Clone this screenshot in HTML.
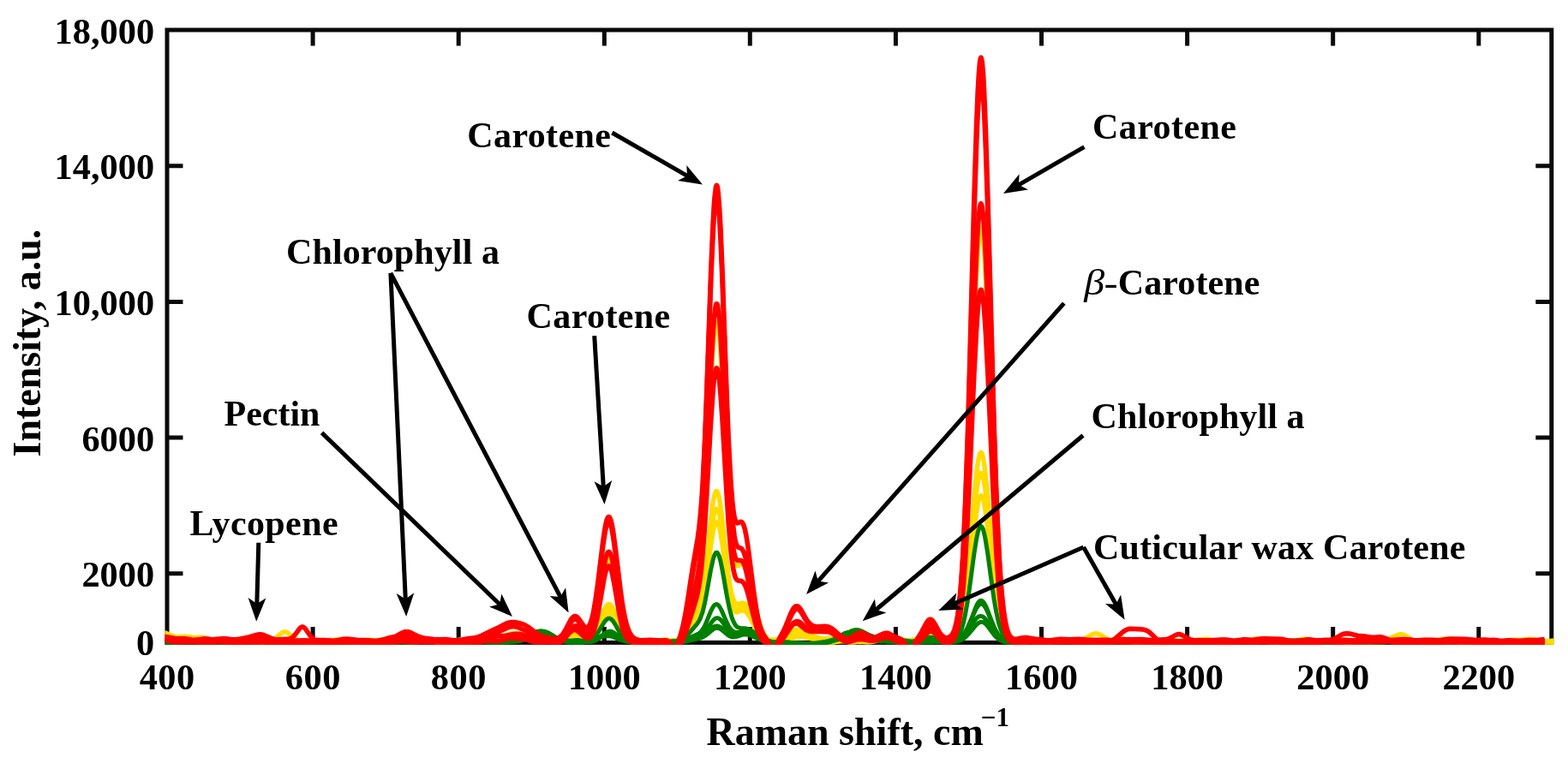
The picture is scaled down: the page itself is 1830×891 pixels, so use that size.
<!DOCTYPE html>
<html lang="en"><head><meta charset="utf-8"><title>Raman spectra</title>
<style>html,body{margin:0;padding:0;background:#fff;}body{width:1830px;height:891px;overflow:hidden;}svg{display:block;filter:blur(0.5px);}</style>
</head><body>
<svg width="1830" height="891" viewBox="0 0 1830 891">
<rect width="1830" height="891" fill="#fff"/>
<defs><clipPath id="plotclip"><rect x="192.6" y="32.5" width="1620.8" height="720.3"/></clipPath></defs>
<g stroke="#0a0a0a" stroke-width="5.0" fill="none" stroke-linecap="butt">
<rect x="195.0" y="35.0" width="1615.8" height="715.40"/>
<path d="M365.1,35.0 V53.5 M365.1,750.4 V731.9"/>
<path d="M535.2,35.0 V53.5 M535.2,750.4 V731.9"/>
<path d="M705.3,35.0 V53.5 M705.3,750.4 V731.9"/>
<path d="M875.3,35.0 V53.5 M875.3,750.4 V731.9"/>
<path d="M1045.4,35.0 V53.5 M1045.4,750.4 V731.9"/>
<path d="M1215.5,35.0 V53.5 M1215.5,750.4 V731.9"/>
<path d="M1385.6,35.0 V53.5 M1385.6,750.4 V731.9"/>
<path d="M1555.7,35.0 V53.5 M1555.7,750.4 V731.9"/>
<path d="M1725.8,35.0 V53.5 M1725.8,750.4 V731.9"/>
<path d="M195.0,669.8 H213.5 M1810.8,669.8 H1792.3"/>
<path d="M195.0,511.1 H213.5 M1810.8,511.1 H1792.3"/>
<path d="M195.0,352.4 H213.5 M1810.8,352.4 H1792.3"/>
<path d="M195.0,193.7 H213.5 M1810.8,193.7 H1792.3"/>
</g>
<g fill="none" stroke-linejoin="round" stroke-linecap="butt" clip-path="url(#plotclip)">
<path d="M191.6,738.4L201,742.5L203.1,743.2L205.2,743.7L208.6,743.9L215.4,743.3L219.2,743.4L229.4,745L240.9,745.8L249.4,747.4L252.8,747.8L263.5,747.9L271.5,748.9L274.5,749.1L278.3,748.7L285.6,747L289.4,746.6L292.4,746.7L298.8,747.5L301.7,747.7L312.4,747.1L323,747.7L332.8,747.4L336.6,747.8L344.2,749.4L347.2,749.8L350.6,749.8L357,749.2L360,749.1L363,749.3L368.9,750.2L371.9,750.4L375.3,750.1L383.4,748.8L387.2,748.6L395.3,748.9L405.1,748.8L408.5,749.1L414.8,750.1L418.7,750.2L421.6,749.9L428.4,748.2L431.4,747.7L434.4,747.6L440.8,748L443.7,748L452.7,746.7L456.1,746.5L459.5,746.7L467.6,747.6L477.8,747.9L485.8,749L488.8,749.2L492.2,749.1L499.5,748.1L502.9,748.1L505.8,748.4L512.6,749.7L516.5,749.9L519.4,749.6L525.8,748.5L528.8,748.2L538.6,748.2L549.2,747.2L558.6,747.6L562.4,747.3L573.4,744.8L581.9,744.1L584.9,743.6L588.3,742.7L596,739.8L598.5,739.3L600.7,739.1L605.3,739.6L617.7,742.3L621.9,743.5L629.1,746.1L633,747.1L636.4,747.4L644.4,747.3L653,747.9L655.9,747.5L658.5,746.3L661,744.5L665.7,740.2L667.4,738.9L669.5,737.8L671.2,737.5L672.9,737.7L674.6,738.5L679.7,742L681.4,743L683.1,743.5L684.4,743.4L685.7,743L687,742.1L689.1,739.5L691.2,735.1L693.3,728.7L695,722.1L697.2,711.9L703.6,674.5L705.7,663.5L707,658.4L708.2,654.7L709.5,652.6L710.4,652.1L711.2,652.5L712.5,654.5L713.8,658.2L715,663.4L717.6,677.2L723.1,711.9L724.8,721.1L726.5,728.9L728.2,735.2L729.9,740L731.6,743.5L733.3,745.9L735.4,747.7L736.7,748.3L738.4,748.8L741.8,749.2L751.2,750L755.4,749.8L765.2,748.3L776.7,748.5L785.2,747.9L789,747.4L791.6,746.4L792.8,745.5L794.1,744.2L795.4,742.4L796.7,740L798.8,734.7L800.9,727.5L813.7,673.3L815.8,661.8L817.5,649.5L818.8,637.8L820.1,623.5L822.6,586.6L824.7,548.1L829.8,445.6L832,410.1L833.2,393.9L834.1,385.9L835.4,378.3L835.8,377L836.2,376.3L836.6,376.4L837.1,377L837.5,378.4L838.3,382.9L839.6,394.2L840.9,410.4L843,445.9L848.1,548.2L850.2,586.3L852.8,622.1L854.1,635.3L855.4,645.5L856.2,650.6L857.5,656.1L858.3,658.5L859.6,660.4L860.5,660.9L861.7,660.6L865.6,657.5L866.4,657.1L867.3,657L868.5,657.5L869.4,658.4L870.2,659.7L871.5,662.5L873.2,667.7L875.3,676.2L882.1,709.4L885.5,724L887.7,731.3L889.4,736.1L891.1,739.9L893.2,743.4L895.3,745.7L897.4,747L900,747.6L902.6,747.5L907.2,746.3L914.5,743.7L917.9,742.2L924.2,738.7L926.8,737.5L929.3,736.8L931.9,736.7L934,737.1L936.1,737.9L946.8,743.6L960,749L964.6,750.5L968.5,750.8L971,750.6L977.8,749.2L981.2,748.8L991.4,748.9L1001.2,748.5L1012.7,749.2L1015.7,748.9L1022.5,747.6L1025.9,747.2L1029.3,747.4L1035.6,748.3L1038.6,748.5L1041.6,748.4L1048,747.5L1050.9,747.3L1053.9,747.3L1061.2,747.9L1065,747.8L1068.8,747.2L1072.2,746.2L1075.2,744.9L1082,741L1083.7,740.4L1085.4,740.2L1087.1,740.4L1089.2,741.2L1097.3,746.2L1102,748.4L1104.1,749L1106.2,749.3L1107.9,749.1L1109.2,748.6L1110.5,747.7L1111.8,746.4L1113,744.5L1113.9,742.8L1116,736.8L1117.7,729.7L1119.4,719.9L1121.1,706.8L1122.8,689.8L1124.1,674L1126.6,634L1129.2,582.2L1131.7,520.3L1136.8,384.6L1139.4,325.9L1141.1,295.8L1142.4,279.7L1143.6,269.6L1144.5,266.6L1144.9,266.2L1145.3,266.6L1146.2,269.6L1147.5,279.5L1148.7,295.6L1150.4,325.6L1153,384.2L1158.1,519.8L1160.7,581.7L1163.2,633.4L1165.8,673.3L1167,689L1168.7,705.9L1170,716.1L1171.7,726.6L1173.4,734.3L1175.5,741L1177.7,745.2L1178.9,746.8L1180.2,748L1182.3,749.1L1184.5,749.5L1186.6,749.4L1191.7,748.7L1194.7,748.6L1197.6,748.7L1204,749.4L1207,749.5L1217.2,748.8L1227.4,748.7L1236.3,747.4L1239.3,747.1L1242.7,747.2L1249.5,748.2L1252.5,748.4L1255.5,748.2L1262.3,747.4L1265.7,747.3L1274.6,748.5L1277.6,748.7L1280.6,748.5L1289.9,747.4L1299.7,747.4L1307.4,747.2L1309.9,747.3L1312.5,747.7L1320.5,749.9L1323.9,750.4L1327.3,750.4L1333.3,749.8L1336.3,749.7L1347.7,750.7L1351.1,750.5L1358.4,749.2L1361.8,748.8L1371.6,748.7L1382.2,748L1385.2,748.1L1391.5,748.7L1394.5,748.8L1397.5,748.5L1403.9,747.4L1406.4,747.2L1409.8,747.3L1417.9,749L1421.7,749.3L1432.4,748.5L1443,748.6L1454,747.5L1457,747.5L1466,748.1L1474.9,747.5L1477.4,747.4L1481.3,747.9L1488.5,749.6L1491.9,749.8L1495.3,749.6L1501.7,748.4L1504.6,748L1514.9,748L1524.2,747.6L1528,747.8L1537.4,749.1L1540.4,749.1L1547.2,748.7L1550.1,748.8L1553.1,749.2L1559.5,750.5L1562.9,750.8L1565.9,750.6L1572.3,749.6L1575.2,749.3L1578.2,749.4L1585,749.9L1589.3,749.8L1597.8,748.8L1608,748.3L1617.3,746.5L1621.2,746.2L1624.6,746.5L1630.9,747.8L1633.9,748.2L1636.9,748.2L1643.3,747.7L1646.2,747.6L1657.7,748.8L1661.1,748.7L1670.1,747.8L1680.3,748L1690.5,747.6L1694.3,748.1L1701.9,749.9L1705.3,750.3L1708.3,750.2L1714.7,749.2L1717.7,748.9L1720.7,748.9L1727,749.5L1730.4,749.6L1740.6,748.6L1752.1,748.8L1762.8,747.8L1766.2,748L1772.5,748.9L1775.9,749.1L1778.9,748.9L1785.7,748L1789.1,748L1792.1,748.4L1798.9,749.9L1802.3,750.3L1805.7,750.2L1814.2,749.3" stroke="#ffdc00" stroke-width="5.4"/>
<path d="M191.6,739.7L200.5,743L203.5,743.7L206.5,744.2L218.4,745.2L221.8,745.4L225.2,745.1L232,744.1L235,744.1L238.4,744.7L246,747.6L249.9,748.4L252.8,748.5L259.2,747.9L262.2,747.8L273.7,749.1L277.1,749L285.1,748.3L294.5,748L305.1,746.5L308.5,746.6L314.5,747.3L317,747.2L319.2,746.6L321.3,745.4L328.9,739L330.6,738.2L332.3,737.9L334,738.2L336.2,739.3L343.4,745.5L345.5,746.9L347.7,747.9L349.8,748.5L351.9,748.8L363.8,749.8L368.1,749.7L375.3,748.7L378.3,748.5L381.7,748.8L388,749.8L391.4,749.9L394.4,749.6L400.8,748.2L403.8,748.1L407.2,748.5L415.3,750.5L419.5,750.8L436.9,748.5L446.3,746.7L449.7,746.5L453.1,746.7L459.5,747.9L462.5,748.1L465.4,747.9L472.2,746.7L475.6,746.6L478.6,747L485.4,748.8L488.8,749.3L491.8,749.2L498.2,748.5L501.6,748.4L510.5,748.9L520.3,748.9L528.8,749.8L531.8,749.9L535.6,749.3L542.8,746.9L545.8,746.3L549.2,746.3L556.9,747.6L561.1,747.6L564.1,747.2L572.2,745.3L581.9,743.8L590,741.8L593,741.2L596.8,741L604.9,741.2L612.1,740.7L615.1,740.9L618.1,741.7L621.1,743L627.9,746.8L630,747.7L632.1,748.2L635.5,748.5L643.2,748.1L651.7,748.2L654.7,747.7L657.6,746.5L660.2,745L666.1,740.7L667.8,739.8L669.5,739.2L671.2,739.1L673.4,739.5L680.2,742.6L681.9,743.2L683.6,743.5L685.3,743.5L687,743.3L688.7,742.6L690.4,741.6L692.1,740.1L693.8,738.1L695.5,735.5L696.7,733.1L699.3,727.4L704.8,713.2L707,708.8L708.2,707L709.1,706.1L709.9,705.6L710.8,705.5L711.6,705.7L712.9,706.7L714.2,708.5L715.5,711L717.6,716.3L723.5,733.1L725.2,737.2L726.9,740.6L728.6,743.3L730.3,745.4L732,747L734.2,748.4L736.3,749.3L739.3,750.1L742.2,750.6L745.2,750.7L749,750.3L756.3,748.5L759.3,748.1L762.7,748.1L769.9,749.4L773.3,749.5L776.3,749.2L783.5,747.9L790.3,747.6L792.8,747.2L795,746.3L797.1,744.6L799.2,742L801.4,738.5L813.7,713.9L815.8,708.4L817.5,702.4L818.8,696.6L820.1,689.7L822.6,671.8L824.7,653.3L829.4,608.5L831.5,591.2L832.8,583.1L834.1,577.3L835.4,574.1L835.8,573.6L836.2,573.4L836.6,573.6L837.1,574L838.3,577.1L839.2,580.5L840.5,587.7L843,607.3L847.7,650.9L850.2,672L852.8,688.2L854.1,694.1L855.4,698.6L857.1,702.6L857.9,703.9L859.2,705L860,705.4L861.3,705.4L865.6,704.1L867.3,704L868.5,704.3L869.4,704.8L871.5,706.8L873.2,709.4L875.3,713.5L882.6,731L885.5,737.2L887.2,740.1L888.9,742.5L890.6,744.3L892.3,745.6L894.9,746.7L898.3,747.2L907.2,747.2L911.5,746.5L914,745.5L916.6,744L923.4,738.5L925.9,736.7L928.5,735.5L931,735.1L933.2,735.3L935.3,736L946.8,741.8L951.4,743.6L955.7,744.9L958.7,745.5L961.2,745.7L969.7,745.4L973.1,745.5L976.5,746.2L982.9,748.2L986.3,748.8L989.3,748.7L995.7,747.8L999.1,747.7L1002,748.1L1009.3,749.8L1012.7,750.1L1015.7,749.9L1022,748.6L1025.4,748.2L1041.6,747.5L1045.4,747.6L1053.5,748.7L1057.3,748.8L1060.7,748.2L1068,746.3L1074.8,744.8L1082.8,742.1L1085.8,741.6L1087.9,741.9L1090.1,742.6L1097.7,746.4L1102,748.1L1104.1,748.6L1106.2,748.9L1107.9,748.9L1109.6,748.7L1112.2,747.6L1114.3,746L1116.4,743.3L1118.1,740.1L1119.8,735.6L1121.5,729.4L1123.2,721.4L1124.5,713.9L1127.1,694.7L1129.6,669.8L1136.8,582.2L1139.4,555.1L1141.1,541.3L1142.4,534L1143.6,529.6L1144.5,528.3L1144.9,528.2L1145.3,528.5L1146.2,530L1147.5,534.8L1148.7,542.4L1150,552.5L1152.6,578.5L1157.7,639.9L1160.2,668.3L1162.8,692.3L1165.3,711.2L1166.6,718.7L1168.3,726.9L1170,733.3L1171.7,738.2L1173.4,741.8L1175.5,745L1177.7,746.9L1180.2,748.2L1181.9,748.7L1184,749L1197.6,749.7L1201.5,749.4L1209.1,748.2L1212.1,748.1L1215.1,748.5L1221.9,750.1L1224.9,750.3L1228.3,750L1235.5,747.9L1238.9,747.4L1242.3,747.3L1250.4,748.1L1255,748L1260.2,747.2L1264.4,746.1L1267.8,744.7L1275,740.7L1277.2,740L1279.3,739.7L1281,739.9L1283.1,740.7L1285.2,741.8L1291.6,745.9L1293.7,746.9L1295.4,747.4L1297.1,747.6L1298.8,747.5L1306.5,746.1L1309.9,746L1313.3,746.6L1320.1,748.7L1323.5,749.5L1326.9,749.9L1338.8,750.6L1343.5,750.5L1351.1,749.2L1354.5,748.9L1358,749.2L1364.3,750.1L1367.7,750.2L1370.7,749.8L1377.9,747.9L1381.3,747.6L1384.3,747.8L1390.7,748.8L1393.7,749L1396.2,748.9L1405.6,747.8L1414.9,748L1423.4,747.9L1427.3,748.2L1434.9,749.9L1437.9,750.1L1441.7,749.5L1449.4,747.3L1452.8,746.9L1455.7,747.1L1461.7,748.1L1464.7,748.4L1476.2,748L1486.8,749L1497,748.8L1507.2,749.4L1511.5,748.9L1519.5,746.4L1522.9,746.1L1526.3,746.5L1533.1,748.4L1536.5,749L1539.5,749L1545.9,748.5L1549.3,748.5L1558.7,749.3L1568.9,749.5L1577.4,750.7L1580.3,750.8L1583.3,750.6L1590.1,749.1L1593.5,748.7L1596.5,748.8L1604.1,749.9L1606.3,749.9L1608.4,749.7L1611.8,748.8L1623.3,744.7L1631.8,741.3L1633.5,740.8L1635.2,740.7L1636.9,740.9L1639,741.5L1641.1,742.7L1647.9,747.1L1650.5,748.1L1653,748.6L1656,748.4L1662,747.3L1664.5,747L1667.9,747.1L1674.7,748.4L1677.7,748.6L1681.1,748.3L1687.5,747.2L1690.5,747.1L1693.9,747.4L1702.4,749.3L1706.6,749.7L1719,750.2L1721.9,750.1L1725.8,749.6L1732.6,748.2L1736,747.9L1739.4,748.2L1746.2,749.7L1749.1,749.9L1752.5,749.4L1759.8,747.7L1763.6,747.3L1773.8,748.4L1784.9,748.3L1795.1,749.2L1806.1,749L1809.1,749.4L1814.2,750.5" stroke="#ffdc00" stroke-width="5.4"/>
<path d="M191.6,743L195,744.6L198,745.3L206.1,746.2L215.4,747.4L218.8,747.3L225.6,746.2L228.6,746L232,746.4L238.8,747.9L241.8,748.1L244.7,747.9L250.3,746.8L253.3,746.6L256.7,747L263,748.5L266,748.7L269,748.5L275.4,747.1L278.3,746.7L281.3,746.7L289,747.2L298.3,746.7L302.2,747.2L309,748.7L311.9,749L315.3,748.6L322.1,746.9L325.1,746.6L328.1,747L334.5,748.6L337,749.1L340,749.2L345.9,748.8L348.9,748.8L351.9,749.1L357.9,750.3L361.3,750.6L363.8,750.5L371.9,749.5L380,749.7L382.5,749.5L385.9,748.9L392.3,746.9L395.7,746.5L398.7,746.9L406.3,749.2L410.2,749.8L412.7,749.7L418.2,748.9L420.8,748.7L423.8,748.8L429.7,749.4L432.7,749.4L440.3,748.4L443.3,748.2L446.3,748.3L452.3,749.1L455.2,749.1L458.2,748.8L464.2,747.7L466.7,747.5L470.1,747.8L476.9,749.3L479.9,749.4L482.9,749L490.1,747L493.5,746.6L496.5,746.8L503.7,747.9L514.3,748L524.5,749.2L528.4,748.9L535.6,747.1L538.6,746.8L541.5,746.9L547.9,748.1L551.3,748.3L553.9,748.1L560.3,746.7L563.2,746.3L566.2,746.4L572.6,747.3L576.4,747.2L579.4,746.6L587.9,744.1L596.8,742.8L604.5,741.1L607.9,740.8L610,740.9L612.1,741.5L619.4,744.5L622.8,745.5L625.7,745.8L632.1,745.5L635.1,745.6L638.1,746.1L643.6,747.5L646.6,747.9L649.6,747.8L652.5,747.3L666.6,743.2L669.1,742.6L671.2,742.4L673.4,742.5L675.5,742.9L684,746.1L685.7,746.5L687.4,746.5L689.1,746.2L690.8,745.2L692.5,743.6L694.2,741.2L697.2,735.4L703.1,720L705.3,715.3L706.5,713.1L707.8,711.5L709.1,710.7L709.9,710.5L710.8,710.7L712.1,711.6L713.3,713.1L714.6,715.2L716.7,719.7L722.7,733.6L724.8,737.8L726.5,740.5L728.2,742.8L730.3,745L732.5,746.8L735,748.3L738.4,749.4L740.1,749.7L742.2,749.8L744.8,749.5L750.3,748.5L752.9,748.2L755.9,748.3L761.8,748.9L764.8,748.9L767.3,748.5L773.7,747.1L776.7,746.9L780.1,747.4L787.3,749.5L789.4,749.7L791.1,749.5L793.7,748.3L795.8,746.7L797.9,744.3L800.5,740.7L812.8,720.1L815,715.7L817.1,709.5L819.6,698.7L822.2,683.7L824.7,664.6L829.4,625.7L832,608L833.2,601.5L834.5,596.9L835.8,594.5L836.2,594.2L836.6,594.2L837.5,594.9L838.8,597.9L839.6,601.1L840.9,607.5L843.4,625L848.1,663.4L850.7,682.2L853.2,696.6L854.5,702L855.8,706.1L857.5,709.6L858.3,710.7L859.6,711.5L860.5,711.6L861.7,711.4L866,708.9L868.1,708.2L869.4,708.3L870.2,708.7L871.9,710.1L873.6,712.4L875.3,715.6L882.1,731.2L885.1,737.1L886.8,739.7L888.5,741.9L890.6,743.9L892.8,745.3L895.7,746.7L899.6,748L902.6,748.6L905.5,748.7L907.7,748.4L909.8,747.7L918.3,743.1L922.1,741.7L925.5,741.3L938.7,741.1L941.7,741.3L944.2,741.9L946.8,742.9L952.7,745.5L956.6,746.5L959.5,746.6L965.5,746.1L968.5,746L977,747.2L979.9,747.3L987.6,746.7L990.1,746.7L993.5,747.3L1000.3,749.3L1003.3,749.7L1006.3,749.6L1013.5,747.8L1017.4,747.4L1028,748.5L1036.1,748L1039,748.1L1047.1,749.5L1049.7,749.7L1053.1,749.6L1059.5,748.5L1062.4,748.3L1065.4,748.4L1070.9,749.2L1073.5,749.3L1077.3,748.6L1084.5,746.3L1087.9,745.8L1090.9,746.1L1097.3,747.6L1100.7,748.1L1104.5,748.1L1108.8,747.5L1111.8,746.6L1113.9,745.5L1116,743.5L1117.7,741L1119.4,737.2L1120.7,733.5L1122.4,727L1123.7,720.8L1126.2,704.7L1128.8,683.8L1131.3,658.6L1136.8,598.8L1139.4,575.5L1141.1,563.7L1142.4,557.4L1143.6,553.5L1144.5,552.4L1144.9,552.3L1145.3,552.5L1146.2,553.7L1147.5,557.8L1148.7,564.2L1150.4,576.1L1153,599.5L1160.7,680.1L1163.2,701.9L1165.8,719L1168.3,731.4L1169.6,736L1171.3,740.7L1173,744L1174.7,746.1L1176.4,747.5L1178.5,748.4L1181.9,749L1191.7,749.7L1195.1,749.5L1201.9,748.6L1204.9,748.5L1207.9,748.9L1213.8,750.1L1216.8,750.3L1220.2,749.7L1227,747.4L1230.4,746.8L1233.4,746.7L1239.3,747.5L1242.3,747.6L1244.8,747.4L1250.8,746.6L1253.3,746.4L1256.8,746.8L1265.3,748.5L1268.2,748.6L1276.3,748.6L1284,749.7L1286.9,749.9L1290.8,749.4L1298.4,747L1301.8,746.6L1304.8,747L1312,748.8L1315,749.1L1325.6,748.4L1334.1,749.3L1337.1,749.4L1345.6,748.4L1348.2,748.3L1351.1,748.5L1357.1,749.4L1359.7,749.5L1362.6,749.2L1369,748L1371.6,747.8L1375,748.2L1382.2,750.1L1385.2,750.4L1388.6,749.9L1395.4,748.3L1399.2,748L1408.6,748.8L1418.8,748.7L1421.7,749.1L1427.7,750.3L1430.7,750.5L1434.1,750.1L1440.4,748.3L1443,747.8L1446.4,747.6L1452.8,748.3L1455.7,748.2L1458.7,747.7L1465.5,745.8L1468.9,745.5L1471.9,745.8L1477.9,747.3L1480.8,747.8L1491,748.1L1500.4,749.3L1503.8,749.2L1511.5,747.7L1515.3,747.5L1518.3,748L1524.6,749.7L1528,750.2L1531,750L1536.5,748.9L1539.1,748.7L1542.1,748.8L1548.9,749.9L1551.8,750L1554.8,749.8L1562.5,748.7L1565.5,748.7L1571.4,749.3L1574.4,749.3L1584.6,748.3L1588,748.6L1595.2,750.2L1598.2,750.4L1601.6,749.8L1609.3,747.2L1613.1,746.7L1615.6,746.8L1623.3,747.8L1631.4,747.5L1634.3,747.6L1637.3,748L1642.8,749.2L1645.8,749.5L1648.8,749.4L1654.7,748.7L1657.3,748.6L1667.9,749.5L1671.3,749.1L1679,746.8L1681.1,746.3L1682.8,746.2L1685.8,746.5L1692.6,748.2L1696,748.6L1706.6,747.8L1717.3,748.5L1725.3,747.7L1728.7,747.6L1731.7,748.1L1738.5,749.9L1741.5,750.3L1744,750.2L1750.4,749.1L1753.4,748.9L1756.4,749.1L1763.2,750.5L1766.2,750.6L1769.1,750.3L1776.4,748.5L1779.8,748.2L1789.5,748.9L1799.3,748.7L1802.3,749.1L1809.5,750.4L1812.1,750.5L1814.2,750.1" stroke="#ffdc00" stroke-width="5.4"/>
<path d="M191.6,744.3L204.8,746.2L208.2,746.1L215,745.1L218,744.9L220.9,745.2L227.7,746.9L230.7,747.3L233.7,747.2L239.6,746.4L242.6,746.2L245.6,746.5L252.4,747.9L255.8,748.3L258.4,748.3L267.3,747.5L277.9,748.5L287.3,748.4L291.1,748.9L298.3,750.8L301.3,751.2L305.1,750.7L311.9,748.7L315.3,748L318.3,747.9L326.8,748.4L337.4,747.4L340.8,747.5L349.8,748.9L360.8,748.8L368.9,749.9L371.5,750L374.9,749.7L382.5,747.6L385.9,747.2L388.9,747.4L395.7,749L399.1,749.4L402.1,749.3L410.6,748.3L421.2,748.5L429.3,747.5L432.3,747.3L435.2,747.5L441.6,748.5L444.6,748.7L447.6,748.5L454,747.5L457.4,747.5L459.9,747.8L466.3,749.1L469.3,749.4L472.7,749L479.9,747.3L483.7,747L493.5,748L502.4,748.5L505.8,749.1L512.6,750.9L516.5,751.2L519.4,750.9L525.4,749.6L528.4,749.2L531.3,749.2L537.7,749.9L541.1,749.8L544.1,749.2L550.5,747.4L553.5,746.9L556.4,746.8L562.8,747.1L566.2,746.9L576,744.8L585.8,743.3L595.1,740.5L597.2,740.1L599,740L600.7,740.1L602.8,740.5L610,743.2L613,744L615.5,744.3L621.5,744.5L624.5,744.8L633,746.8L635.9,747.3L639.3,747.4L647,747.1L654.7,747.7L657.2,747.7L660.6,747.1L667.4,744.8L670.4,744.4L672.1,744.7L673.8,745.2L680.6,748.4L682.3,748.8L684,748.9L686.1,748.4L687.8,747.5L689.9,745.7L692.1,743.4L694.2,740.4L696.3,736.8L702.7,724.6L705.3,720.3L706.5,718.6L707.8,717.3L709.1,716.4L710.4,716.1L711.2,716.3L712.5,716.9L713.8,718.1L715,719.7L717.2,723.4L723.1,736.1L726.1,741.5L727.8,743.9L729.1,745.4L730.8,746.8L732.5,747.8L735.4,748.6L743.1,749L750.3,750.1L752.9,750.3L756.7,750L763.5,748.3L766.9,747.9L769.9,748.1L776.3,749.3L778.8,749.5L781.8,749.5L784.8,749L789.9,747.6L793.3,746.3L796.2,744.5L798.8,742L802.2,737.4L808.6,726.5L813.7,718.6L815.4,715.5L817.1,711.5L818.8,706.3L820.1,701.2L822.6,688L825.2,670.9L829.8,635.8L832.4,620L833.7,614.4L834.5,611.7L835.8,609.5L836.6,609.2L837.5,609.9L838.8,612.7L839.6,615.8L840.9,621.9L843,635.5L848.1,674.4L850.2,688.7L852.8,701.9L854.1,706.7L855.4,710.2L857.1,713.2L857.9,714.1L859.2,714.8L860.9,714.7L865.1,713.2L866.8,712.9L868.1,713.1L869,713.4L871.1,715L872.8,717.1L874.9,720.4L882.6,735L886.4,741.4L888.5,744.3L890.2,746.2L892.3,748.1L894,749.2L895.3,749.7L897,750.2L900,750.1L902.1,749.6L909.8,747.1L912.8,746.7L920.8,746L923.8,745.4L930.2,743.5L934,743L937.8,743.5L946.8,745.8L956.6,746.9L965.5,748.6L969.7,748.7L977,747.6L980.4,747.5L983.8,748.1L990.6,750L993.5,750.4L996.9,750.2L1003.3,748.8L1006.3,748.3L1016.5,748L1024.2,747L1027.1,746.8L1030.5,747L1036.9,748.1L1039.9,748.4L1042.9,748.4L1049.2,747.8L1052.2,747.9L1054.8,748.3L1060.7,749.6L1063.3,749.8L1066.7,749.6L1074.3,747.6L1078.2,747.2L1081.1,747.4L1089.6,748.6L1098.6,748.9L1106.7,749.8L1109.2,749.7L1111.8,748.9L1113.9,747.4L1116,745L1117.7,742.3L1119.4,738.6L1121.1,733.8L1122.8,727.8L1124.1,722.2L1126.6,708.3L1129.6,687.2L1132.2,665.3L1137.3,617.8L1139.8,597.6L1141.1,589.8L1142.4,583.8L1143.6,580L1144.5,578.8L1144.9,578.6L1145.3,578.6L1146.2,579.5L1147.5,582.9L1148.7,588.5L1150.4,599.1L1153,620L1158.1,668.4L1160.2,686.9L1162.8,705.7L1165.3,720.1L1166.6,725.7L1168.3,731.7L1169.6,735.2L1171.3,738.9L1173,741.6L1175.1,743.9L1177.2,745.4L1179.8,746.4L1181.5,746.7L1183.6,746.9L1190.8,746.3L1194.2,746.4L1197.2,747.1L1204.4,749.4L1208.3,750L1211.3,749.8L1216.8,748.7L1219.3,748.4L1222.3,748.4L1228.3,749L1231.2,749.1L1234.2,748.8L1240.6,747.8L1244,747.6L1254.6,748.5L1265.3,748.4L1268.2,748.7L1274.2,749.9L1277.6,750.2L1281,749.7L1288.2,747.7L1291.6,747.4L1294.6,747.6L1301.8,749L1304.8,749.2L1314.6,748.6L1325.6,749.3L1328.6,749L1334.6,748.2L1337.1,748.1L1340.5,748.3L1346.9,749.4L1349.9,749.5L1352.8,749.3L1358.8,748.4L1361.8,748.3L1364.8,748.7L1371.6,750.2L1374.5,750.5L1377.9,750.1L1384.7,748.3L1388.1,747.6L1397.1,747.1L1406.4,746.1L1410.7,746.5L1417.9,748.3L1421.3,748.7L1423.9,748.7L1430.2,747.8L1433.2,747.7L1436.2,748.1L1442.6,749.4L1446,749.6L1448.9,749.3L1455.7,748.1L1459.2,747.9L1469.4,749.2L1480,749.2L1490.2,750.2L1494,749.8L1500.8,748.1L1504.2,747.7L1507.2,747.8L1514.4,749.5L1518.3,749.8L1520.8,749.7L1528.9,748.5L1531.9,748.5L1540.4,749L1543.3,748.8L1549.3,747.7L1552.3,747.4L1555.2,747.4L1563.3,747.9L1573.5,747.2L1576.9,747.6L1585,750.1L1588.8,750.7L1592.2,750.4L1598.6,748.8L1601.6,748.3L1604.6,748.2L1612.2,748.3L1623.3,747.3L1625.8,747.4L1632.2,748.2L1635.2,748.4L1638.2,748.2L1644.1,747.5L1647.1,747.5L1650.1,747.8L1656,749.1L1659,749.3L1662.4,749.1L1669.2,747.7L1672.6,747.5L1675.6,747.9L1682.8,749.6L1687.1,750L1695.1,749.7L1705.3,749.8L1708.7,749.4L1715.1,748L1718.1,747.8L1721.5,748.1L1727.5,749.4L1730.4,749.8L1733.8,749.7L1740.2,748.6L1743.2,748.5L1746.2,748.7L1752.5,749.7L1755.5,749.8L1758.5,749.4L1765.3,747.7L1768.3,747.2L1778.1,746.9L1786.1,746.3L1788.7,746.4L1790.8,746.7L1798.5,748.9L1801.9,749.5L1805.3,749.3L1811.7,748.1L1814.2,747.9" stroke="#ffdc00" stroke-width="5.4"/>
<path d="M191.6,749.4L201.8,750.1L206.1,750.2L222.2,749.6L235,748.8L238.4,749L245.6,749.8L248.6,749.9L252.4,749.6L260.1,748.5L263.9,748.3L267.3,748.5L277.9,749.6L295.8,750.4L307.3,749.8L319.2,749.8L322.6,749.5L329.8,748.2L334,747.9L337.4,748.1L345.5,749.2L349.4,749.5L364.7,749.1L377.4,748.5L391,749.5L394.4,749.5L401.7,748.9L405.1,748.9L414.4,750.1L417.8,750.3L433.1,749.7L447.6,750L459.1,750.6L463.7,750.3L473.1,748.5L477.3,748.1L489.2,748.8L501.6,748.6L513.9,749.6L528.8,750.1L533.9,749.9L542.4,748.7L545.8,748.4L549.2,748.6L556.9,749.7L560.7,749.9L564.1,749.8L574.3,748.9L599.4,749L604.1,748.5L607.9,747.4L611.7,745.7L619.8,740.8L623.6,738.9L627.9,737.4L631.7,737L635.5,737.4L639.3,738.7L642.7,740.5L651.7,746.2L654.7,747.7L657.2,748.7L661,749.6L665.7,750.3L671.2,750.8L675.5,750.8L680.2,750.2L684.8,749L688.7,747.4L692.1,745.3L694.6,742.9L697.2,739.7L699.3,736.4L704.4,727.8L706.5,724.8L708.7,722.8L709.9,722.2L710.8,722.1L711.6,722.2L712.9,722.8L714.2,723.9L715.5,725.4L717.6,728.6L723.5,738.9L726.5,743.1L728.2,744.9L729.9,746.2L731.6,747.2L733.3,747.9L736.7,748.7L741.8,749.1L747.3,749.1L755.9,748.7L759.3,748.8L762.7,749.1L769.5,750.1L773.3,750.4L776.7,750.2L783.9,749.3L791.6,748.6L794.1,748L796.7,746.9L798.8,745.4L800.9,743.4L813.7,728.3L815.8,725.1L817.5,721.7L820.1,714.3L822.6,703.8L824.7,692.9L829.4,666.3L832,654.2L833.2,649.8L834.1,647.6L835.4,645.6L836.2,645.2L837.1,645.4L838.3,647.2L839.6,650.5L840.9,655.2L843,665.3L848.5,696.8L851.1,709.6L852.8,716.5L854.1,720.8L855.4,724.4L857.1,728L858.3,730L859.6,731.4L860.9,732.4L862.2,733L864.3,733.5L869.4,733.8L871.5,734.1L874.1,734.8L876.2,735.8L880,738.3L888.9,745.3L891.9,747.1L894.5,748.3L897,749.1L900.4,749.9L907.2,751L911.9,751.5L916.6,751.6L927.2,750.8L930.6,751L939.5,752.1L942.5,752.2L945.5,751.9L963.4,749.3L967.2,748.5L971,747.4L976.5,745.5L981.2,743.6L993.5,736.9L996.5,735.9L999.1,735.6L1001.6,736L1004.2,736.9L1014.4,742.5L1019.9,744.8L1031,748.1L1035.2,749L1039,749.6L1051.4,750.6L1054.8,750.6L1057.8,750.4L1064.6,749.1L1073.5,747L1082,744.7L1085.8,744.3L1087.9,744.4L1090.5,744.8L1099,747.4L1102.8,748.3L1106.7,748.7L1109.6,748.6L1112.2,747.9L1114.3,746.9L1116.4,745.2L1118.1,743.2L1119.8,740.4L1121.1,737.6L1122.8,733L1124.1,728.6L1126.6,717.4L1129.2,702.8L1131.7,685.3L1136.8,647L1139.4,630.6L1141.1,622.3L1142.4,617.9L1143.6,615.2L1144.5,614.5L1144.9,614.4L1145.3,614.6L1146.2,615.6L1147.5,618.5L1148.7,623.2L1150,629.5L1152.6,645.4L1157.7,683L1160.2,700.4L1162.8,715L1165.3,726.3L1166.6,730.8L1168.3,735.7L1170,739.4L1171.7,742.2L1173.4,744.3L1175.5,746.1L1177.7,747.2L1180.2,748L1184,748.5L1198.1,749.3L1211.7,749.4L1223.6,750.4L1227.4,750.2L1235.1,748.9L1238.9,748.6L1242.7,748.8L1253.8,750L1267,750.2L1272.1,750.1L1283.1,749.2L1293.3,749.7L1296.7,749.7L1309.5,748.2L1312.9,748.3L1323.1,749L1334.6,748.4L1340.1,748.3L1352.4,748.8L1363.9,750.6L1367.7,750.9L1371.1,750.7L1381.3,749.5L1393.7,749.8L1406.9,748.9L1423.9,749.5L1433.2,750.1L1437,750.1L1440.9,749.8L1448.5,748.6L1451.9,748.4L1455.3,748.5L1462.6,749.5L1466.4,749.8L1480,749.2L1497.4,749.3L1509.3,749.8L1522.1,749L1525.5,749.2L1532.3,749.9L1535.3,750L1539.5,749.6L1548.4,748.1L1553.5,747.8L1566.7,748.4L1580.3,750L1583.7,750L1593.9,749.7L1605.8,750.6L1609.7,750.4L1616.9,749.4L1620.3,749.2L1624.1,749.2L1634.3,749.9L1646.2,749.9L1651.8,749.7L1660.7,748.6L1664.1,748.4L1667.5,748.6L1674.7,749.5L1678.1,749.7L1681.5,749.6L1688.8,748.8L1692.2,748.6L1703.6,749L1715.6,748.8L1731.3,749.1L1736,749.4L1744.5,750.7L1748.3,751L1752.1,750.7L1760.6,749.1L1764.9,748.7L1775.9,749L1786.6,748.8L1802.7,749.1" stroke="#008000" stroke-width="5.0"/>
<path d="M191.6,748.7L203.1,749.4L213.3,749.4L223.5,750.1L227.7,749.7L235.8,747.8L239.6,747.6L242.6,747.8L249,748.8L252,749.1L263,748.6L274.1,749.4L285.6,749.2L296.6,750L305.6,749.3L308.5,749.3L311.9,749.6L318.7,750.9L322.1,751.1L325.5,750.8L333.6,749.3L337.9,749L345.5,749L355.3,748.8L368.1,750.2L371,750.1L380.4,749.1L391.9,750L395.7,749.7L403.4,748.3L406.8,748.1L409.7,748.3L418.7,749.3L428,749.5L436.9,749.9L440.8,749.7L448.4,748.5L451.8,748.2L454.8,748.4L461.2,749.4L464.6,749.7L467.6,749.6L473.9,748.8L476.9,748.6L489.2,749.6L500.7,748.9L510.9,749.3L520.3,749.2L524.5,749.6L532.6,751.3L536,751.5L539.4,751.2L546.6,749.6L550.1,749.3L560.7,749.6L572.2,748.9L583.6,749.5L593,748.9L601.5,749.1L604.5,748.9L607.5,748.2L610.4,746.8L619.4,740.8L623.2,738.7L627,737.4L630.8,737.1L634.7,737.5L638.5,738.8L641.9,740.4L650.4,745.6L654.7,747.3L658.1,748L666.6,748.6L675.9,750L679.3,750.1L683.1,749.7L689.1,748.4L693.8,747L696.3,746L698.9,744.6L707.4,738.6L709.5,737.7L711.6,737.3L713.8,737.6L716.3,738.8L723.5,744.2L726.5,746.1L729.5,747.3L732.5,748.1L744.8,750.4L748.2,750.8L752,750.7L759.3,749.5L762.2,749.3L765.2,749.3L772,750L775.8,750L785.2,748.8L794.1,748.6L797.9,748L801.8,746.5L808.2,743.2L814.1,740.6L816.2,739.3L817.9,737.7L819.2,736.3L820.5,734.4L822.2,731.4L824.7,725.8L829.4,714.2L832,709.1L833.2,707.3L834.1,706.4L835.4,705.7L836.2,705.6L837.1,705.8L837.9,706.3L838.8,707.1L840,708.9L842.2,712.9L847.7,725.7L850.2,730.8L852.8,734.6L854.1,736L855.8,737.3L857.9,738.2L860,738.5L862.2,738.4L870.2,737.3L872.8,737.4L875.3,737.9L877.5,738.6L879.6,739.7L888.9,746L893.2,748.1L896.6,749.1L905.1,750.6L914.5,752.9L917,753.2L919.6,753.1L927.2,751.9L930.6,751.5L942.5,751.9L951.9,751.3L959.5,751.2L963.4,750.7L968,749.4L984.2,742.8L995.7,736.9L998.2,736L1000.3,735.8L1002.9,736.1L1005.5,736.9L1015.2,742L1020.8,744.4L1028.4,746.9L1033.5,747.9L1036.9,748.1L1043.7,747.8L1046.7,747.9L1049.7,748.3L1056.5,749.7L1060.3,750.1L1062.9,750L1071.8,749.1L1074.8,749.1L1083.7,749.9L1086.7,749.8L1096.4,748.7L1109.2,749L1114.7,748.3L1116.9,747.8L1119,747L1122,745.2L1123.7,743.6L1124.9,742.1L1127.5,738.1L1130,732.7L1132.6,726.2L1137.3,713L1139.8,706.9L1141.1,704.5L1142.4,702.8L1143.6,701.7L1144.9,701.3L1146.2,701.7L1147.5,702.8L1148.7,704.5L1150,706.8L1152.6,712.6L1157.3,725.1L1159.8,731.3L1162.4,736.5L1164.9,740.7L1167.9,744.1L1169.6,745.6L1171.3,746.7L1173,747.6L1175.1,748.4L1178.9,749L1181.9,749L1190,748.5L1201.5,749L1210.4,747.9L1213.4,747.8L1216.8,748.1L1224,749.8L1227.8,750.2L1231.2,750.1L1240.2,749.2L1249.5,749.1L1259.7,748.6L1263.6,748.8L1272.5,750L1275.9,750L1282.3,749.5L1285.2,749.4L1288.2,749.7L1294.6,750.6L1297.6,750.7L1301.4,750.4L1309.1,748.9L1312.5,748.6L1322.7,749.2L1332,749.4L1343.1,750.3L1346.9,750L1354.1,748.9L1357.5,748.7L1360.5,748.9L1366.9,749.9L1370.3,750.1L1381.8,749.1L1384.7,749.2L1391.5,749.8L1395.4,749.8L1404.7,748.9L1414.9,748.6L1423,747.7L1426,747.6L1429.8,747.9L1437.5,749.7L1441.3,750.2L1444.7,750L1453.6,749L1465.1,749.5L1476.6,749L1487.6,749.8L1499.1,749.7L1507.6,750.8L1510.6,751L1514,750.8L1521.7,749.2L1525.1,748.8L1528,748.9L1535.3,749.7L1539.1,749.9L1548,749.4L1558.2,749.5L1567.6,748.3L1570.6,748.2L1573.5,748.3L1582.9,749.3L1585.9,749.2L1592.7,748.5L1595.6,748.6L1598.6,748.9L1605.4,750.2L1608.8,750.5L1612.2,750.3L1621.6,749.1L1630.1,748.8L1639.9,748.2L1643.7,748.4L1650.9,749.7L1654.3,750L1657.7,749.9L1666.2,748.9L1669.6,749L1676.4,749.9L1679.4,750L1682.4,749.9L1689.2,749.1L1692.6,748.9L1702.4,749.7L1713,749.8L1723.6,750.6L1727.5,750.3L1734.3,749L1737.7,748.6L1741.1,748.8L1748.7,750.1L1752.5,750.3L1763.2,749.4L1774.2,749.5L1785.7,748.3L1796.3,748.5L1802.7,748" stroke="#008000" stroke-width="5.0"/>
<path d="M191.6,749.3L198.4,749.4L209,749.9L221.8,749.3L225.2,749.6L232,750.5L235.4,750.6L238.4,750.4L245.2,749.2L248.2,748.9L252,748.9L260.5,749.5L264.7,749.5L278.8,748.7L288.5,747.6L291.9,747.4L296.2,747.7L303.4,749.1L306.8,749.5L309.8,749.6L319.6,749.3L329.4,750.4L332.8,750.6L336.6,750.4L345.5,749.6L360.8,748.8L365.5,749L373.6,750.2L377.4,750.5L380.4,750.3L388,749.1L391.4,748.9L394.4,749L403.8,749.7L415.3,749.2L425,749.2L434,749L447.1,749.8L450.6,749.6L457.4,748.7L460.8,748.5L464.6,748.8L473.1,750.3L477.3,750.6L503.3,748.2L507.5,748L519.4,748.7L528.8,748.2L531.8,748.3L535.6,748.8L542.8,750.3L546.6,750.6L549.6,750.6L557.3,749.7L562,749.5L576.8,749.8L586.2,750.4L589.6,750.5L595.1,749.8L609.2,746.9L612.1,746L616.4,744.2L623.2,739.9L625.7,738.5L628.3,737.6L630.4,737.4L633,737.7L635.5,738.5L645.3,744.1L650,746.2L654.7,747.7L658.9,748.3L663.2,748.4L670.4,747.7L673.8,747.6L677.6,748L685.3,749.5L687.4,749.6L689.5,749.5L692.1,748.9L694.6,747.8L702.7,742.8L705.3,741.4L707.8,740.6L710.4,740.3L712.5,740.6L715,741.4L723.5,745.8L726.5,747.1L729.1,747.9L732,748.5L735.4,748.6L742.2,748.3L745.6,748.4L749,748.7L755.4,749.8L758.4,750.1L761.8,749.9L769,748.9L772.9,748.7L776.3,748.9L785.2,749.9L791.1,750L797.1,749.4L802.2,748.3L806,746.9L812.8,744.2L817.5,741.9L820.5,739.6L823,737L825.6,733.7L830.3,727L832.8,723.9L834.9,722.2L836.2,721.8L837.1,721.7L837.9,721.8L839.2,722.3L841.3,724L843.4,726.6L848.5,734.3L851.1,737.7L853.7,740.1L854.9,740.9L856.2,741.5L857.9,741.8L859.6,741.7L861.7,741.3L866.4,739.7L869,739L871.5,738.7L874.5,738.9L877.5,739.6L881.3,741L894.5,747.4L899.6,749.2L903.8,750L911.5,750.2L914.5,750.4L923.8,752.5L927.2,753L931.9,753.2L949.3,752.2L962.1,750.6L966.8,749.8L970.2,748.8L973.1,747.4L976.1,745.7L982.5,741.4L985.5,739.7L988.9,738.6L992.3,738.2L994.8,738.2L997.8,738.6L1004.6,740.2L1009.3,741.8L1018.6,745.9L1022.9,747.3L1027.6,748.2L1035.2,749L1039.5,749.3L1042.9,749.3L1052.2,748.2L1056.1,748.1L1059.5,748.4L1067.5,750.1L1071.8,750.4L1084.5,749.3L1102,748.8L1110.5,748.8L1114.3,748.3L1117.7,747L1120.7,745L1123.7,741.9L1126.2,738.2L1129.2,732.9L1137.3,715L1139.8,710L1141.5,707.5L1142.8,706.2L1144.1,705.4L1145.3,705.2L1146.6,705.6L1147.9,706.5L1149.2,708.1L1150.9,710.9L1153.4,716.4L1158.5,729.3L1161.1,735.2L1163.6,740.2L1165.8,743.4L1168.7,746.7L1171.7,748.7L1175.5,750L1180.2,750.7L1183.2,750.8L1186.2,750.5L1195.1,748.9L1198.9,748.5L1201.9,748.6L1211.7,749.4L1215.1,749.2L1221.9,748.5L1225.3,748.5L1235.5,749.5L1240.2,749.7L1255,749L1267.4,748L1271.6,748.2L1279.3,749.6L1282.7,750L1286.1,749.9L1292.9,749.2L1296.3,749L1299.7,749.1L1306.9,749.9L1310.8,750L1328.6,749.7L1339.7,749.1L1349.9,749.7L1352.8,749.7L1356.2,749.4L1363.5,748.1L1367.3,747.9L1370.7,748.2L1377.9,749.6L1381.8,750.1L1396.6,750.5L1401.7,750.3L1412.4,749.5L1424.3,749.7L1434.1,748.3L1437.5,748.1L1440.9,748.3L1448.1,749.5L1451.9,749.8L1455.3,749.7L1465.1,748.7L1479.1,748.4L1483.8,748.6L1492.3,749.5L1496.1,749.7L1499.1,749.5L1505.9,748.6L1508.9,748.5L1512.3,748.7L1519.1,749.7L1522.5,750L1535.3,749.6L1547.2,750.4L1560.8,750.7L1566.7,750.3L1576.5,748.3L1580.8,747.8L1584.2,748L1593.5,749.3L1596.5,749.3L1606.3,748.9L1619.9,749.7L1636.9,749.7L1647.1,748.6L1650.5,748.5L1653.9,748.8L1661.1,749.9L1664.1,750.1L1667.5,749.9L1675.2,748.7L1679,748.4L1708.3,749.8L1721.9,748.8L1725.3,748.9L1732.1,749.6L1735.5,749.7L1744.9,748.6L1748.3,748.4L1752.1,748.8L1761.9,750.5L1770.4,750.9L1780.2,750.7L1790,749.3L1793.4,749L1796.8,749L1802.7,749.5" stroke="#008000" stroke-width="5.0"/>
<path d="M191.6,750L196.3,750.3L206.9,749.3L217.5,749.4L227.3,748.9L231.1,749.2L237.9,750.4L240.9,750.7L244.3,750.6L253.3,750L263.9,750.6L268.1,750.2L276.2,748.5L280.5,748.2L289.8,748.7L300,748.7L310.7,749.7L314.1,749.6L321.3,748.6L324.7,748.4L327.7,748.6L336.6,749.7L339.6,749.7L348.9,749L360.8,750L363.8,749.9L372.3,749L383.4,749.2L394,748.5L397.8,748.9L405.5,750.4L408.9,750.7L411.9,750.6L421.2,749.3L432.3,749.5L440.8,748.7L443.7,748.7L446.7,748.8L455.2,749.8L466.7,749.7L475.2,750.6L478.2,750.8L481.6,750.5L488.8,749L492.2,748.6L495.6,748.6L504.6,749.3L515.6,748.8L525.4,749.1L538.1,747.9L541.5,748.1L547.9,749.1L550.9,749.3L560.3,748.9L563.2,748.9L572.6,750.4L576.4,750.6L579.4,750.4L587.9,749.3L599,749L604.9,748.1L613.4,746.3L617.2,745.3L621.1,743.7L628.7,739.9L631.3,739.1L633.4,738.9L635.5,739.2L637.6,739.9L646.1,744.6L650.4,746.2L653.8,746.9L669.5,749.1L672.9,749.2L680.6,749L687.8,749.3L691.6,748.9L693.8,748.3L695.9,747.4L702.7,743.1L704.8,742L707,741.2L709.1,741L710.8,741.2L712.9,741.9L720.6,745.8L724,747.1L728.2,748.2L734.6,749.1L738.4,749.4L741.8,749.4L750.8,748.4L753.7,748.2L764.8,748.8L775,748.5L778.8,748.9L786.5,750.5L790.3,750.7L794.5,750.1L803.5,747.6L812.8,745.9L816.7,744.6L818.8,743.6L821.3,741.8L829,734.8L831.5,732.8L834.1,731.4L836.6,731L838.8,731.4L841.3,732.7L843.9,734.6L851.1,740.8L853.7,742.3L855.8,743.1L857.9,743.3L860,743.1L862.2,742.5L869,739.9L871.1,739.5L873.2,739.5L875.3,740L877.5,740.8L884.3,744.6L887.2,746L890.2,747.1L893.6,747.9L901.3,749.4L905.5,749.9L909.4,750L916.6,749.7L920,749.8L923,750.4L929.8,752.1L933.2,752.6L936.1,752.6L944.2,752.2L954,752.6L958.3,752.2L977.8,747.1L981.2,745.9L988,742.7L991,741.6L994.4,740.9L997.8,740.6L1008,740.8L1012.3,741.3L1016.5,742.4L1025,746.1L1028.8,747.4L1031.8,747.9L1039.9,748.6L1048.4,749.8L1053.1,749.9L1062.4,749.3L1073.9,749.9L1076.9,749.7L1083.7,748.6L1086.7,748.4L1090.1,748.7L1097.7,749.9L1101.5,750.1L1105.8,749.7L1116.4,748.2L1119.4,747.2L1122.4,745.5L1124.9,743.3L1127.9,739.6L1136,726.8L1138.5,723.2L1140.2,721.4L1141.5,720.4L1143.2,719.6L1144.5,719.4L1145.8,719.6L1147.5,720.4L1149.2,721.8L1150.9,723.7L1153.8,727.9L1161.5,740.4L1163.6,743.3L1165.8,745.7L1167.9,747.6L1170,748.8L1172.1,749.6L1174.7,749.9L1184,749.3L1194.2,749.6L1203.6,749.3L1207,749.5L1213.8,750.3L1216.8,750.4L1219.8,750.2L1226.6,749.1L1229.5,748.8L1232.5,748.9L1241.9,749.7L1253.8,748.8L1257.2,749L1263.6,749.7L1267,749.8L1277.2,749.1L1287.8,749.2L1296.7,748.1L1299.7,748L1303.5,748.3L1311.6,750L1315,750.3L1325.6,749.5L1337.1,749.7L1346.5,748.5L1350.3,748.3L1360.1,748.9L1371.1,748.6L1374.5,749L1380.9,750.1L1383.9,750.4L1387.3,750.3L1394.5,749.3L1397.9,749.1L1409,750L1419.6,749.9L1430.2,750.5L1434.1,750.2L1443,749L1446.4,749L1452.8,749.4L1455.7,749.5L1467.2,748.4L1471.1,748.6L1478.7,749.9L1482.5,750L1492.3,749.1L1502.5,748.8L1510.6,747.9L1513.6,747.7L1517.4,748L1524.2,749.3L1527.2,749.7L1530.2,749.8L1539.5,749.3L1551,750.5L1554,750.3L1561.2,749.4L1565,749.1L1574.8,749.6L1585.9,749.2L1594.8,750L1597.8,750.1L1601.2,749.8L1608,748.6L1611.4,748.4L1614.4,748.5L1623.3,749.8L1634.8,749.6L1643.3,750.3L1646.2,750.4L1658.1,749.2L1669.6,749.3L1677.7,748.3L1680.7,748.1L1684.1,748.3L1691.7,749.8L1695.6,750.2L1698.5,750L1706.6,749.1L1717.3,749L1728.7,748.1L1731.7,748.3L1741.1,749.3L1744,749.3L1750.4,748.8L1753.4,748.9L1762.3,750.1L1765.3,750.3L1768.3,750.2L1775.1,749.4L1778.1,749.2L1781,749.3L1790.4,750.3L1802.7,750.2" stroke="#008000" stroke-width="5.0"/>
<path d="M191.6,750.5L208.2,749.9L220.9,748.8L232.4,749.1L244.3,748.6L248.2,749L255.8,750.2L259.6,750.4L270.3,749.5L274.5,749.3L290.7,749.1L300.5,749.7L303.9,749.7L314.1,748.6L317.5,748.4L328.5,749.2L342.1,748.6L354.9,749.6L371,749.8L375.3,749.6L383.4,748.6L387.2,748.5L391,748.8L399.1,750.2L403.4,750.5L413.1,750.1L425.5,750.4L435.7,749.6L445.9,749.2L456.9,748.3L460.8,748.5L468,749.4L471,749.7L474.4,749.6L482,748.6L485.8,748.4L497.3,749.2L516.9,749.8L530.1,749L542.8,749.5L551.8,748.6L555.2,748.4L559,748.7L567.9,750L573.9,750.2L588.7,749.6L599.4,748.4L607,747.8L610,747.4L612.6,746.8L615.1,745.8L624.9,740.7L627.4,739.9L629.6,739.7L632.1,739.9L634.7,740.6L644.4,744.9L650.4,746.9L655.9,748.3L661,749L672.5,749L681.4,749.6L685.7,749.3L688.2,748.8L690.8,748.1L699.3,744.7L702.7,743.6L706.1,742.8L709.1,742.6L712.1,742.8L715,743.5L727.4,748.1L730.8,749L733.7,749.5L737.1,749.7L754.2,749.9L758,749.6L765.2,748.7L768.6,748.5L772.4,748.9L780.5,750.2L785.2,750.4L790.3,750.1L801.8,748.8L808.2,747.4L817.5,745.1L820.5,743.9L823,742.4L825.6,740.5L830.7,736.1L832.8,734.6L834.9,733.6L837.1,733.3L839.2,733.7L841.3,734.8L843.4,736.4L849.4,741.5L851.5,742.9L853.2,743.5L854.9,743.9L857.1,743.8L859.2,743.4L864.3,741.8L866.8,741.1L869.4,740.9L871.9,741.1L874.5,741.6L877,742.5L887.7,747.1L891.9,748.7L895.7,749.7L899.1,750.2L902.1,750.2L908.5,749.8L911.9,749.7L924.2,751.2L936.1,751L947.6,752.2L953.2,752.1L961.7,750.9L968,749.5L972.3,748L980.8,744.2L985,742.8L989.7,742.1L996.5,741.9L1001.6,742L1005.9,742.6L1009.7,743.7L1016.9,746.4L1019.9,747.4L1023.7,748.2L1028,748.6L1040.3,749.3L1053.1,748.9L1065,749.5L1068.8,749.2L1076.9,747.9L1080.7,747.7L1083.7,747.9L1093.9,749.2L1111.3,749.9L1114.7,749.6L1118.1,748.8L1121.5,747.4L1124.5,745.7L1127.1,743.7L1130,740.8L1137.7,731.6L1140.2,728.9L1142.8,727L1144.1,726.5L1145.3,726.3L1146.6,726.4L1147.9,726.9L1149.2,727.7L1150.9,729.2L1153.4,732.2L1160.7,742L1163.2,744.6L1165.3,746.3L1167.9,747.6L1170.9,748.5L1174.3,749L1179.4,749.3L1184.9,749.4L1195.5,749.1L1205.7,750.1L1209.1,750.2L1221,749.2L1224.4,749.2L1234.2,749.9L1244.8,749L1248.2,748.9L1258.9,749.5L1276.7,749.9L1281,749.6L1289.9,748L1294.2,747.7L1297.1,747.8L1305.6,748.7L1318,748.7L1331.6,749.9L1349.9,750L1360.5,749.2L1363.9,749.1L1366.9,749.4L1373.7,750.3L1377.1,750.5L1380.5,750.3L1388.6,749.2L1392,749.1L1401.3,749.3L1411.1,749.2L1422.6,749.8L1435.8,749.1L1446.4,749.6L1450.2,749.4L1457.9,748.3L1461.3,748.1L1464.7,748.3L1475.3,749.6L1491,750.1L1495.7,749.9L1505.9,748.7L1509.3,748.7L1519.1,749.2L1531.4,748.3L1534.8,748.5L1541.6,749.4L1545.5,749.6L1556.5,749.4L1576.1,749.5L1586.3,750.7L1589.7,750.9L1593.1,750.7L1601.2,749.4L1605,749.1L1615.6,749.5L1628,749L1638.2,749.4L1648.4,749.3L1659.4,749.6L1663.3,749.3L1671.3,747.9L1674.7,747.7L1678.6,747.9L1686.2,749.1L1690,749.3L1699,749.3L1709.6,749.7L1720.7,749.5L1731.7,750L1735.1,749.8L1742.3,749.1L1745.3,749L1755.1,749.9L1758.1,750L1761.5,749.8L1769.6,748.8L1774.2,748.6L1790,749.3L1802.7,750.5" stroke="#008000" stroke-width="5.0"/>
<path d="M191.6,746.5L197.1,748.6L199.3,749.1L201.4,749.4L203.9,749.4L210.3,748.8L213.7,748.7L223.5,749.5L234.5,749.5L245.2,750.4L248.6,750.3L255,749.4L257.9,749.3L260.9,749.7L267.3,751.1L270.7,751.5L273.7,751.4L280.9,750.2L284.3,749.9L287.3,750.2L296.6,751.5L306,751.6L314.9,751.9L319.2,751.5L326.8,750L329.8,749.8L332.8,750L339.1,751.2L342.1,751.4L345.5,751.2L352.3,750.2L355.7,750.2L358.7,750.5L365.5,751.9L369.3,752.1L378.3,751.7L388,751.8L397,750.8L400,750.7L403.4,751L410.2,752.4L413.1,752.6L416.5,752.3L422.9,750.9L426.3,750.5L429.3,750.5L436.1,751.3L439.9,751.4L449.7,750.5L460.3,750.2L468.4,749.1L471.4,748.9L474.4,749.1L481.2,750.3L484.6,750.5L487.5,750.3L494.3,749.2L497.7,749.1L501.2,749.6L508.4,751.4L512.6,751.9L521.6,751.8L531.8,752.2L544.1,751.1L553.5,751.5L557.7,750.9L564.9,748.8L567.9,748.2L571.3,748.1L577.7,748.6L581.1,748.5L584.5,747.9L592.6,745.8L595.1,745.5L597.7,745.4L607.9,746L612.6,746.5L616.4,747.5L623.6,749.8L627,750.5L630.4,750.6L636.4,749.9L639.3,749.8L641.9,750L647.4,750.8L649.6,750.9L652.5,750.3L654.2,749.6L655.5,748.8L658.5,746.2L664,739.8L666.1,737.7L667.4,736.7L668.7,736L670.8,735.6L672.5,735.9L674.6,737.1L681,743L683.1,744.5L684.8,745.3L686.5,745.4L687.8,745L688.7,744.5L689.9,743.1L690.8,741.9L692.9,737.3L694.6,731.9L696.3,725L698,716.6L703.6,683.8L705.7,672.5L707,667.2L708.2,663.3L709.5,661.2L710.4,660.8L711.2,661.2L712.5,663.3L713.8,667.1L715,672.4L717.2,683.7L722.3,714.4L724,723.2L725.7,730.6L726.9,735.2L728.6,740L729.9,742.8L731.6,745.5L733.7,747.8L736.7,749.5L741,750.9L745.6,751.9L749.9,752.2L758.8,752L767.8,752.4L770.7,752.2L775.8,751.6L778,751.8L779.7,752.6L780.9,753.7L786,760.6L787.3,761.4L788.6,761.3L789.4,760.6L790.7,759L793.3,754.1L798.4,743L801.8,734L810.3,707.2L812.4,700L814.5,691.1L816.7,678.8L818.4,665.4L819.6,652.8L822.2,620.4L824.7,579.5L829.4,496.3L832,458.6L833.2,444.7L834.1,437.8L835.4,431.4L835.8,430.3L836.2,429.8L836.6,429.9L837.1,430.5L837.5,431.7L838.3,435.6L839.6,445.5L840.9,459.4L843,490L848.1,577.7L850.2,610.5L852.8,641.5L854.1,653.1L855.8,664.5L857.5,671.9L858.3,674.3L859.6,676.6L860.5,677.5L861.3,678L864.7,678.4L866.4,679.2L868.1,681L869.8,684.2L871.1,687.4L872.8,692.9L880.9,725.2L883,732.6L885.1,738.6L886.8,742.5L888.9,746.2L890.6,748.4L895.3,753.7L900.4,761.8L901.7,762.9L902.6,763L903.4,762.7L904.3,761.9L905.5,759.9L908.9,753.2L910.6,750.3L916.6,741.8L922.1,733.4L923.8,731.3L925.5,729.5L927.2,728.4L928.9,728L930.6,728.1L932.3,728.9L934.4,730.4L940,735L942.1,736.2L944.2,737L948,737.5L955.7,737.4L963.8,737.6L967.2,738.1L969.7,738.8L971.9,739.8L974,741L980.4,745.9L982.9,747.5L985.5,748.7L987.6,749.3L989.7,749.5L992.3,749.2L1000.3,746.9L1003.8,746.4L1007.2,746.7L1014.4,748.1L1018.6,748.2L1022.5,747.5L1029.3,745.3L1031.8,744.7L1034.8,744.4L1037.8,744.8L1040.7,745.8L1050.1,749.7L1053.1,751.4L1054.4,752.5L1055.6,754L1060.3,761.2L1061.2,762L1062,762.4L1063.3,762.1L1064.6,760.8L1068.8,753.6L1071.4,750.2L1076.5,745.4L1082,739.3L1083.7,738L1085.4,737.2L1086.2,737.1L1087.5,737.3L1089.6,738.5L1091.8,740.5L1097.7,747.2L1099.4,748.8L1101.1,749.9L1103.2,750.8L1105,751.2L1106.7,751.1L1108.4,750.6L1109.6,749.9L1110.9,748.9L1112.2,747.5L1113.5,745.6L1115.6,741L1117.7,734L1119.4,725.9L1121.1,715L1122.8,700.7L1124.1,687.3L1126.6,653.1L1129.2,608.7L1131.7,555.3L1136.8,438.7L1139.4,388.5L1141.1,363L1142.4,349.4L1143.6,341L1144.5,338.5L1144.9,338.3L1145.3,338.6L1146.2,341.3L1147.5,349.9L1148.7,363.7L1150.4,389.4L1153,439.3L1160.2,599.2L1162.8,645.1L1165.3,681.2L1166.6,695.6L1168.3,711.4L1169.6,720.8L1171.3,730.6L1173,737.7L1174.7,742.7L1175.5,744.6L1176.8,746.7L1178.1,748.2L1179.4,749.1L1181.1,749.8L1182.8,750.1L1191.7,749.9L1200.2,750.7L1210,751.1L1220.6,752.3L1224.4,752L1231.2,750.7L1234.2,750.4L1237.2,750.5L1244,751.6L1247,751.8L1249.9,751.5L1256.8,750.2L1259.7,749.9L1263.1,750.1L1272.5,751.2L1282.7,751.1L1290.8,751.3L1294.6,751.1L1301.8,750L1304.8,749.8L1308.2,750.1L1315,751.6L1318.4,752L1321.4,751.9L1328.6,750.7L1332,750.5L1335,750.7L1341.4,751.7L1344.3,751.9L1354.1,751.6L1365.2,752.2L1373.7,751.5L1376.7,751.4L1379.6,751.7L1385.6,752.6L1388.1,752.8L1390.3,752.6L1392.4,752.2L1400.5,749.9L1404.3,749.5L1416.2,750.7L1426,750.4L1437,751L1445.1,750.5L1448.1,750.4L1451.1,750.7L1457,751.6L1460,751.8L1463,751.6L1469.8,750.3L1473.2,750L1476.2,750.2L1483.8,751.7L1487.6,752.1L1498.3,751.2L1508.1,751.2L1518.7,750.7L1522.1,751L1528.5,752L1531.4,752.2L1535.3,751.7L1544.2,749.3L1554,747.3L1557.8,745.7L1564.2,742.1L1566.7,740.8L1569.3,740L1571.8,739.7L1575.2,740.1L1584.2,742.2L1592.7,743.1L1600.3,744.2L1604.1,744.3L1610.5,743.9L1613.5,744.2L1616.9,745.3L1622.9,748.7L1625.4,749.9L1627.5,750.6L1630.1,750.9L1632.6,750.9L1639,750L1642.4,749.9L1652.6,750.6L1663.3,750.4L1670.9,751.1L1673.9,751.2L1676.9,751L1683.2,750.1L1686.2,750L1690,750.5L1697.3,752.3L1700.7,752.6L1704.1,752.3L1710.9,751.1L1714.3,750.9L1724.1,751.6L1734.7,751.4L1745.3,752.3L1748.7,752.1L1755.5,751.1L1758.5,751L1761.5,751.2L1767.4,752.1L1770.4,752.2L1773.8,751.8L1781.5,749.9L1784.9,749.5L1787.8,749.7L1796.3,750.8L1802.7,750.9" stroke="#ff0000" stroke-width="5.6"/>
<path d="M191.6,746.9L194.6,746.9L197.6,747.2L206.9,749.5L211.2,750L214.1,750L222.6,749.4L232.4,750L235.8,750L246.5,749.1L264.7,748.2L268.6,748.5L276.6,750.2L280,750.5L282.2,750.4L284.7,749.9L291.5,747.8L294.5,747.1L297.1,746.7L300,746.7L314.9,748.2L325.5,749.6L338.3,750.1L347.7,751.5L351.1,751.7L354.5,751.4L361.3,750.1L364.7,749.7L368.1,749.8L375.7,750.8L380,751L409.3,748.6L413.1,748.8L422.5,750.1L425.5,750.1L432.3,749.6L435.2,749.6L438.2,749.8L445,750.9L448.4,751L450.6,750.8L453.1,750.3L462,747.4L466.3,746.3L471,745.5L475.2,745.3L478.2,745.4L481.2,746L490.5,749.1L494.3,749.9L498.2,750L504.6,749.3L507.5,749.2L510.5,749.4L517.3,750.2L520.3,750.4L523.3,750.2L532.2,749.1L545.4,749.3L561.1,748.4L566.2,747.3L574.7,744.2L578.5,743.1L581.9,742.7L590.4,742.2L599.4,740.5L603.2,740.2L606.2,740.3L609.2,740.9L630.8,746.6L634.7,747.4L639.8,747.9L648.3,747.7L651.3,747.5L653.4,747.2L655.5,746.4L657.2,745.4L658.9,744L660.6,742.2L666.1,734.9L667.8,733L670,731.3L671.2,730.8L672.1,730.8L673.8,731.2L675.5,732.4L677.2,734.1L681.4,739.1L683.1,740.7L684.8,741.6L686.1,741.7L687.4,741.3L688.2,740.6L689.9,738.2L692.1,733.1L693.8,727.1L695.5,719.5L697.6,707.9L703.6,669L705.7,656.9L707,651.3L708.2,647.2L709.5,644.9L710.4,644.4L710.8,644.4L711.6,645.2L712.9,648L714.2,652.5L715.5,658.5L717.6,671L723.1,708L724.8,717.9L726.5,726.4L727.8,731.8L729.5,737.6L731.2,742L732.9,745.1L734.2,746.7L735.9,748.2L737.6,749L739.3,749.4L748.2,749.5L756.3,750.5L759.7,750.8L763.5,750.7L773.7,750.1L777.5,750.4L779.2,751L780.9,752.3L784.8,756.8L786,757.9L787.3,758.3L788.2,758L789,757.3L790.3,755.5L793.3,749.1L797.9,737.6L801.4,727L804.3,715.4L812.4,681.2L814.5,670.3L816.7,655.8L818.4,640.1L819.6,625.3L822.2,587.1L824.7,538.3L829.8,428.8L832,391L833.2,373.7L834.5,361.7L835.4,356.8L835.8,355.4L836.2,354.7L836.6,354.7L837.1,355.3L837.5,356.6L838.8,364.6L839.6,373.1L840.9,390.1L843,427.5L848.1,535.5L850.2,575.7L852.8,613.3L854.1,627.2L855.8,640.5L857.5,648.7L858.3,651.3L859.2,652.9L860,653.9L860.9,654.4L861.7,654.5L864.3,654.4L865.1,654.6L866,655.2L866.8,656.1L867.7,657.5L869,660.6L870.2,664.6L871.9,671.6L880,713.9L882.1,723.3L884.3,730.9L886,735.7L888.1,740.3L890.2,743.7L894.9,750.1L900,759.4L901.3,761L902.1,761.4L903,761.4L904.3,760.3L905.5,758.3L908.9,751.3L911.1,747.6L923,731L925.1,728.4L926.8,726.9L928.5,725.9L930.2,725.5L931.9,725.8L934,727L936.1,728.8L941.7,734.4L943.8,736L945.5,736.8L947.2,737.2L949.3,737.3L951.4,736.9L956.6,735.4L958.7,734.9L961.2,734.8L963.8,735.2L965.9,736L968.5,737.4L976.5,743.1L979.9,745.2L983.3,746.8L986.7,747.8L990.1,747.9L993.1,747.2L995.7,746L1001.6,742.4L1003.3,741.7L1004.6,741.5L1006.3,741.5L1008,741.9L1010.1,742.9L1015.7,746.1L1017.8,746.9L1019.5,747.1L1021.2,746.9L1022.9,746.4L1028.8,743.2L1030.5,742.4L1032.7,742L1034.8,742.2L1037.8,743.6L1042.9,747.1L1045,748.4L1047.5,749.3L1052.2,750.4L1053.9,751.3L1056.1,753.4L1060.3,760L1061.6,761.1L1062.4,761.4L1063.3,761.1L1064.6,759.9L1070.5,749.8L1079.4,738.4L1082,735.6L1084.1,734.3L1085,734.1L1086.2,734.2L1088.4,735.4L1090.1,737L1095.6,743.2L1097.7,745L1099.8,746.3L1102.4,747.2L1105.4,747.7L1107.5,747.6L1109.6,746.9L1110.9,746.1L1112.2,744.7L1113.5,742.7L1114.3,740.9L1115.6,737.4L1116.4,734.4L1118.1,726.5L1119.8,715.6L1121.1,704.9L1122.8,686.8L1124.1,670L1126.6,627.3L1129.2,572.2L1131.7,506.4L1136.8,362.8L1139.4,300.8L1141.1,269.1L1142.4,252L1143.6,241.4L1144.5,238.2L1144.9,237.8L1145.3,238.2L1146.2,241.3L1147.5,251.8L1148.7,268.8L1150.4,300.5L1153,362.7L1158.1,506.7L1160.7,572.5L1163.2,627.3L1165.8,669.6L1167,686.1L1168.7,703.9L1170,714.4L1171.7,725.3L1173.4,733.2L1175.5,740.1L1176.8,743L1178.1,745.3L1179.4,747L1180.6,748.2L1181.9,749.1L1183.2,749.7L1184.5,749.9L1186.2,749.9L1188.7,749.2L1194.7,746.4L1196.4,746L1198.1,745.9L1201,746.5L1208.3,749.3L1212.1,749.9L1215.1,749.9L1223.2,749.3L1231.7,749L1241.9,748.4L1245.7,748.6L1252.9,749.9L1255.9,750.2L1259.3,750.1L1267,748.9L1270.4,748.7L1273.8,749L1283.1,750.5L1286.5,750.7L1289.5,750.5L1294.2,749.6L1298,748L1300.1,746.7L1302.2,745.2L1309.5,738.8L1312.5,736.5L1314.6,735.4L1316.3,734.8L1318,734.4L1320.1,734.3L1332.9,734.9L1335.4,735.3L1337.5,736L1339.7,737.1L1341.8,738.6L1349.4,745.9L1352.4,748.3L1354.1,749.2L1356.2,750.1L1358,750.5L1360.1,750.7L1363.9,750.6L1381.3,749L1384.7,748.8L1388.6,749.1L1395.8,750.3L1398.8,750.6L1402.2,750.6L1409,749.8L1412.4,749.6L1415.4,749.8L1422.6,750.8L1426,750.9L1436.2,749.8L1439.6,749.6L1457,749.4L1466,749.9L1468.9,749.9L1472.8,749.4L1479.6,748.1L1483,747.8L1486.4,748L1494.9,750L1499.5,750.5L1508.5,750.5L1517,751.1L1520.8,751.1L1530.2,750.6L1540.4,750.5L1549.7,749.3L1553.1,749.1L1556.9,749.4L1565,751.2L1568.4,751.5L1571.8,751.3L1579.1,750.1L1582.9,749.8L1600.3,749.4L1612.7,749.8L1624.6,748.8L1628,749L1634.8,750L1638.2,750.3L1641.6,750.2L1648.8,749.3L1652.6,749.2L1663.7,750.7L1670.5,751L1678.1,750.9L1682.4,750.7L1685.8,750.2L1693.4,748.6L1697.3,748.3L1700.2,748.5L1707,749.5L1710,749.8L1713,749.8L1719.4,749.4L1722.8,749.4L1732.6,750.9L1736.8,751.2L1753.8,750.4L1765.3,749.5L1769.6,749.7L1776.8,751L1780.2,751.3L1784,751L1790.8,749.8L1793.8,749.4L1797.2,749.4L1802.7,749.9" stroke="#ff0000" stroke-width="5.6"/>
<path d="M191.6,743.4L203.9,745.5L206.9,745.7L215.8,745.8L226.9,747.4L230.7,747.3L238.8,746.1L242.2,746.1L245.2,746.5L252.8,748.4L257.1,748.8L272,748.8L274.9,748.7L278.8,748L286.8,745.7L290.7,744.9L294.9,744.5L306.4,743.9L309.4,744.1L311.9,744.6L314.5,745.4L321.7,748.2L324.3,748.8L326.4,749L329.4,749L338.7,748L347.7,748.1L355.7,747.9L360,748.1L367.2,749.4L370.2,749.8L373.6,749.7L380.8,748.6L383.8,748.4L387.2,748.6L394,749.6L397,749.8L408.5,748.7L420.8,749.5L430.1,749L439.9,748.9L444.6,748L452.3,745.3L456.1,744.4L459.1,744L466.3,743.4L473.1,742.5L476.1,742.4L478.2,742.6L480.7,743.1L489.7,746.4L492.2,747.1L494.8,747.5L512.6,748.6L516,748.4L522.4,747.7L525.4,747.7L528.8,748L535.2,749.3L538.6,749.6L542.4,749.1L551.8,746.3L560.7,744.8L564.5,743.8L573.9,740.4L583.2,737.3L593.8,732.5L596.4,731.7L599,731.5L601.5,731.8L604.1,732.5L618.5,738.3L623.2,740.7L631.3,745.7L635.5,747.6L638.5,748.4L642.3,748.7L646.6,748.7L649.6,748.2L651.7,747.5L653.4,746.5L655.1,745.1L656.8,743.2L659.8,738.7L666.1,727.2L668.3,724.5L670,723.3L670.8,723.1L672.1,723.3L672.9,723.7L674.2,724.8L675.9,726.8L680.6,733.7L681.9,735.2L683.1,736.1L684,736.5L684.8,736.5L686.1,735.9L687.4,734.5L688.7,732.2L690.4,727.5L692.1,721L693.3,714.8L695,704.9L698,683.6L703.6,638.6L706.1,621.7L707.4,615.6L708.2,612.5L709.5,609.8L710.4,609.2L710.8,609.3L711.6,610.3L712.9,613.6L714.2,619L715.5,626.2L718,644.9L724,694.4L725.7,706.6L727.4,716.9L728.6,723.5L730.3,730.6L732,736L733.7,740L735.9,743.4L738,745.6L740.5,747.3L744.4,748.9L748.2,749.9L751.6,750.3L755,750L762.2,748.4L765.2,748.1L769,748.2L775,749.1L778,749.9L780.1,751.2L781.8,752.9L784.8,756.7L786,757.8L787.3,758.1L788.2,757.8L789.4,756.4L790.7,753.9L793.7,745.8L797.1,734.1L800.1,720.6L802.6,706.1L808.2,671.5L814.1,637.3L815.8,624.6L817.5,608L818.8,592L820.1,572.4L822.6,521.5L824.7,468.2L829.8,325.7L832,276.3L833.2,254L834.1,242.8L835.4,232.3L835.8,230.6L836.2,229.8L836.6,229.9L837.1,230.9L837.5,232.8L838.3,239.2L839.6,255.3L840.9,278.1L843,328.2L848.1,472.6L850.2,526.6L852.8,577.8L854.1,596.9L855.4,611.8L857.1,625.7L857.9,630.4L859.2,635.2L860,637.1L861.3,638.8L862.2,639.3L864.7,640.2L865.6,640.8L866.4,641.7L868.1,644.9L869.8,650.1L871.1,655.4L872.8,663.9L879.2,702.3L882.1,718.2L883.8,725.6L885.5,731.8L887.2,736.7L889.4,741.4L891.1,744.2L895.3,750L900,757.4L900.8,758.3L901.7,758.8L902.6,758.7L903,758.5L903.8,757.8L905.1,755.8L910.2,744.8L916.6,733.5L923,719.8L925.1,715.7L926.4,713.8L927.6,712.3L928.9,711.4L930.2,711.1L931,711.2L931.9,711.6L934,713.5L936.1,716.6L940.4,724L942.5,727.3L944.6,730L947.2,732.1L948.9,733L951,733.5L962.5,734.1L966.3,734.7L969.7,735.6L972.7,736.9L975.3,738.4L985,745.4L987.2,746.4L988.9,747L991,747.1L993.5,746.5L995.7,745.4L1001.2,741.9L1002.9,741.2L1004.2,740.9L1005.9,740.9L1007.6,741.4L1009.7,742.4L1015.2,745.9L1017.4,746.8L1019.1,747L1020.8,746.9L1022.9,746.2L1029.7,742.3L1031.8,741.4L1033.9,740.9L1036.5,741L1039,741.7L1049.7,745.6L1051.4,746.4L1052.6,747.2L1054.4,748.8L1055.6,750.5L1060.3,758.8L1061.6,760.1L1062.4,760.3L1062.9,760.3L1063.7,759.8L1065,758.2L1070.5,747.5L1080.3,732.1L1081.6,730.4L1082.8,729.2L1084.1,728.4L1085,728.2L1085.8,728.3L1086.7,728.6L1087.5,729.2L1088.8,730.4L1090.5,732.7L1096,741.4L1098.1,743.9L1099.8,745.5L1102,746.8L1104.5,747.6L1106.7,747.5L1108.8,746.6L1110.1,745.5L1111.3,743.8L1112.6,741.5L1113.9,738.4L1116,730.6L1117.7,721.3L1119.4,708.4L1121.1,691.1L1122.8,668.4L1124.1,647.3L1126.6,593.4L1129.2,523.5L1131.7,439.5L1137.3,240.8L1139.8,164L1141.1,134.4L1142.4,112.3L1143.6,98.6L1144.5,94.4L1144.9,93.8L1145.3,94.3L1146.2,98.2L1147.5,111.6L1148.7,133.4L1150.4,174L1153,253.6L1158.1,438.1L1160.7,522.5L1163.2,592.8L1165.8,647.1L1167,668.4L1168.7,691.4L1170,704.9L1171.7,718.9L1173.4,729.1L1175.5,737.7L1176.4,740.1L1177.7,743L1178.9,745.1L1180.2,746.5L1182.3,747.9L1183.6,748.4L1185.3,748.6L1193.8,748.4L1201.5,749L1204.4,749.1L1207.4,748.8L1214.2,747.7L1217.2,747.5L1220.6,747.9L1228.3,749.4L1231.7,749.7L1234.6,749.6L1242.3,748.8L1251.6,748.5L1262.3,747.4L1265.7,747.6L1272.9,748.6L1275.9,748.8L1278.9,748.6L1285.7,747.4L1288.6,747.2L1292,747.3L1298.4,748.1L1301.4,748.3L1304.4,748.2L1310.8,747.6L1313.7,747.5L1316.7,747.8L1324.8,748.8L1334.1,749.3L1342.2,750.4L1345.2,750.6L1349,750.3L1357.1,748.3L1360.5,747.9L1363.9,748L1372.8,749.1L1375.8,749.1L1384.7,748.5L1396.6,749.2L1406.9,748.5L1417.9,748.6L1420.9,748.3L1427.3,747.2L1430.2,747.1L1433.6,747.3L1440.9,748.9L1444.3,749.3L1447.2,749.2L1454.5,748.1L1458.7,747.9L1467.7,748.3L1477.9,748.1L1486.8,749.2L1490.2,749.3L1493.2,749.1L1499.1,748.3L1502.1,748.1L1505.1,748.2L1511.9,748.9L1514.9,748.9L1517.8,748.6L1525.1,747.1L1528.9,746.9L1531.9,747.2L1541.2,748.7L1559.5,750.2L1563.3,749.9L1570.1,748.8L1573.5,748.4L1576.9,748.6L1585.4,749.6L1588.8,749.5L1595.6,748.4L1599,748.2L1602,748.4L1608.8,749.2L1611.8,749.3L1622.4,748.3L1632.6,748.1L1642.8,747.2L1646.7,747.4L1653.9,748.9L1656.9,749.2L1660.7,748.9L1668.8,747.3L1672.2,747.2L1682.4,748.1L1693.9,748L1704.9,749.3L1716,749.3L1725.8,750.2L1730,749.8L1738.5,747.7L1742.3,747.3L1745.3,747.5L1752.1,748.6L1755.5,748.9L1765.7,748.7L1775.9,749.1L1787.4,748.3L1790.4,748.4L1798,749.3L1802.7,749.1" stroke="#ff0000" stroke-width="5.6"/>
<path d="M191.6,743.3L202.2,745.5L210.7,746.5L218.8,747.8L223.1,748L226,747.8L235.4,746.4L238.4,746.4L245.2,746.9L248.2,746.9L259.6,745.7L263.5,745.8L271.5,746.7L276.6,746.6L280.5,746.1L285.6,745.1L290.7,743.9L299.2,741.4L301.3,741L303.4,740.8L305.6,741L308.1,741.7L316.6,745.4L320.4,746.5L324.7,746.8L335.3,746.4L338.7,745.8L340.4,745L341.7,744.1L344.2,741.4L349.8,733.8L351.5,732.4L352.8,732L353.6,732.1L354.5,732.5L356.2,734L361.7,742L364.2,745L366.8,746.7L368.5,747.3L370.2,747.6L378.7,747.6L386.3,748.2L389.7,748.3L393.1,747.9L400.8,746.3L405.1,746L416.5,747.2L425.9,747.5L435.7,748.4L440.3,748.3L451.4,746.4L456.9,745.1L461.2,743.4L469.7,738.8L472.2,737.9L474.4,737.7L476.1,737.8L478.2,738.3L480.7,739.4L488.8,743.4L492.2,744.5L496,745.2L506.7,746.6L510.5,746.7L519.9,746.5L529.6,747.7L533.5,747.8L537.3,747.4L545.8,745.7L554.3,744.7L558.6,743.7L562,742.3L570.5,738L579.4,733.9L590,728.4L594.3,727L598.1,726.6L601.5,726.8L605.3,727.5L609.2,728.5L612.6,729.8L617.2,732.6L627.4,740.4L630,741.8L632.5,742.9L636.8,744.1L644.4,745.3L647.8,745.6L650.4,745.3L652.1,744.7L653.8,743.6L655.5,742L656.8,740.5L659.8,735.8L666.1,723.8L668.3,721L670,719.8L670.8,719.6L671.7,719.6L672.5,719.9L673.8,720.8L675.9,723.2L681,730.5L682.3,731.8L683.6,732.6L684.8,732.8L686.1,732.2L687.4,730.8L688.7,728.4L690.4,723.6L692.1,716.9L693.3,710.6L695,700.5L697.6,682L703.6,633.1L705.7,618.5L707,611.8L708.2,606.9L709.5,604.1L710.4,603.5L710.8,603.5L711.6,604.4L712.9,607.6L714.2,612.8L715.5,619.9L718,638.3L724.4,691.1L726.1,703.1L727.8,713.4L729.5,722L731.2,728.9L732.9,734.2L735,739L736.7,741.8L738.8,744.2L741.4,746.1L743.9,747.1L746.1,747.6L748.6,747.8L758.8,747.3L769.5,748.1L776.3,747.9L778,748L779.7,748.6L780.9,749.6L784.8,754.1L786,755.3L787.3,755.7L788.6,755.1L789.9,753.3L791.1,750.6L794.1,741.9L797.1,730.7L799.6,718.4L802.2,703.2L808.2,663.8L814.1,629.4L815.8,616.9L817.5,600.4L818.8,584.3L820.1,564.6L822.6,513L824.7,458.8L829.8,313.8L832,263.6L833.2,240.9L834.1,229.5L835.4,218.9L835.8,217.2L836.2,216.4L836.6,216.5L837.1,217.5L837.5,219.4L838.3,225.9L839.6,242.1L840.9,265.1L843,315.4L848.1,459L850.2,511.8L852.8,560.8L854.9,587.9L856.6,601.1L857.5,605.3L858.8,609.2L859.6,610.4L860.5,610.9L861.3,610.8L864.3,609.3L865.1,609.4L866,609.9L866.8,610.9L867.7,612.7L869.4,618.2L871.1,626.6L872.8,637.4L879.6,690.5L883,713.1L884.7,721.9L886.4,729L888.1,734.4L890.2,739.4L891.9,742.4L895.7,748.2L899.1,754.4L900.4,756.3L901.3,757.2L902.1,757.7L902.6,757.7L903.4,757.4L904.3,756.6L905.5,754.6L909.8,745.8L914.9,735.9L917.4,730.1L922.5,717.3L924.7,712.7L925.9,710.6L927.2,709L928.5,708L929.8,707.7L930.6,707.8L931.5,708.2L932.3,708.9L933.6,710.3L935.7,713.6L940,721.3L942.1,724.7L944.2,727.4L946.8,729.7L949.3,731L951.9,731.5L954.9,731.7L962.9,731.4L965.5,731.7L968,732.5L970.2,733.5L972.7,735.2L979.9,741.8L982.1,743.5L984.6,745L986.7,745.7L989.3,745.7L991.8,745L994,743.9L1000.3,740L1002,739.3L1003.8,738.9L1005.5,738.9L1007.2,739.3L1009.3,740.3L1015.2,743.5L1017.4,744.2L1019.1,744.4L1021.2,744.2L1023.3,743.6L1029.7,740.5L1031.8,739.7L1033.9,739.3L1036.1,739.4L1037.8,740L1039.9,741L1046.3,745L1051.4,747.7L1053.1,748.8L1054.4,750L1055.6,751.5L1060.3,758.5L1061.6,759.4L1062.4,759.5L1063.7,758.7L1065,756.9L1069.7,747.5L1075.2,738.6L1081.6,726.7L1083.7,724.1L1085,723.3L1085.8,723.2L1086.7,723.4L1087.5,723.9L1089.2,725.7L1090.9,728.4L1096.4,738.3L1098.1,740.7L1099.8,742.5L1102,744L1103.2,744.5L1104.5,744.7L1106.7,744.5L1108.8,743.4L1110.5,741.8L1111.8,740L1113,737.4L1113.9,735.3L1116,727.5L1117.7,718.2L1119.4,705.1L1121.1,687.4L1122.8,663.9L1124.1,641.9L1126.6,585.8L1129.2,512.7L1131.7,425L1136.8,233.2L1139.4,150.5L1141.1,108.4L1142.4,85.7L1143.6,71.8L1144.5,67.7L1144.9,67.2L1145.3,67.8L1146.2,72.1L1147.5,86.3L1148.7,109.1L1150.4,151.3L1153,233.9L1160.2,498.3L1162.8,573.8L1165.3,632.9L1166.6,656.3L1168.3,681.8L1169.6,696.9L1171.3,712.7L1173,724.2L1175.1,734L1176,736.7L1177.2,740L1178.5,742.4L1179.8,744L1181.9,745.6L1183.2,746.1L1184.9,746.3L1187.4,746.1L1193.8,744.8L1196.8,744.6L1199.3,744.8L1207,746.1L1222.7,747.9L1227,747.8L1234.2,746.7L1237.6,746.4L1248.7,746.8L1258.9,746.4L1270.8,747.3L1282.3,747.2L1285.2,747.5L1291.6,748.6L1295,748.9L1298.4,748.7L1306.5,747.1L1310.8,746.6L1320.1,746.8L1330.7,746.5L1343.5,747.5L1359.7,746.9L1361.8,746.5L1363.9,745.8L1366,744.9L1372,741.6L1374.1,740.8L1375.8,740.6L1377.5,740.8L1379.6,741.6L1386.4,745.5L1389.4,746.9L1392.4,747.6L1395.8,747.9L1403.4,747.7L1413.2,747.8L1424.7,747L1428.1,747.2L1435.3,748.2L1438.7,748.3L1441.7,748.1L1450.2,746.9L1453.2,746.8L1460,747.2L1463,747.2L1473.2,745.9L1477.4,745.7L1494.9,746.4L1498.7,746.9L1505.9,748.4L1509.8,748.7L1512.7,748.6L1521.7,747.5L1524.6,747.5L1534.4,748.2L1547.2,747.2L1557.4,747.5L1568.4,747.3L1579.9,748L1592.2,746.8L1596.1,747L1603.7,748.2L1607.1,748.3L1618.6,747.2L1628.8,747.1L1638.6,746.6L1642,746.7L1651.8,747.8L1654.7,747.7L1661.6,747.3L1664.5,747.3L1673,748.3L1676,748.4L1679.8,748.1L1688.8,746.3L1693.4,746L1710.5,746.3L1723.2,747.6L1732.6,747.1L1735.5,747.2L1738.5,747.5L1745.3,748.6L1748.7,748.8L1751.7,748.6L1760.2,747.7L1773.8,748.3L1784,747.6L1794.2,747.5L1802.7,746.6" stroke="#ff0000" stroke-width="5.6"/>
</g>
<g>
<path d="M714.4,155.0 L802.9,205.8" stroke="#000" stroke-width="5.0" fill="none"/>
<path d="M820.0,215.6 L791.0,210.9 L802.0,205.3 L801.3,192.9 Z" fill="#000"/>
<path d="M1265.4,171.6 L1188.1,216.3" stroke="#000" stroke-width="5.0" fill="none"/>
<path d="M1171.0,226.1 L1189.6,203.3 L1188.9,215.8 L1200.0,221.4 Z" fill="#000"/>
<path d="M455.9,318.9 L473.3,700.4" stroke="#000" stroke-width="5.0" fill="none"/>
<path d="M474.2,720.1 L462.6,693.1 L473.3,699.4 L483.3,692.2 Z" fill="#000"/>
<path d="M455.9,318.9 L654.5,697.9" stroke="#000" stroke-width="5.0" fill="none"/>
<path d="M663.6,715.4 L641.6,695.9 L654.0,697.1 L660.1,686.2 Z" fill="#000"/>
<path d="M693.7,392.2 L704.3,569.3" stroke="#000" stroke-width="5.0" fill="none"/>
<path d="M705.5,589.0 L693.5,562.2 L704.3,568.3 L714.2,560.9 Z" fill="#000"/>
<path d="M1241.8,354.1 L954.2,679.3" stroke="#000" stroke-width="5.0" fill="none"/>
<path d="M941.1,694.1 L951.5,666.6 L954.8,678.6 L967.1,680.4 Z" fill="#000"/>
<path d="M375.6,505.4 L583.8,706.3" stroke="#000" stroke-width="5.0" fill="none"/>
<path d="M598.0,720.0 L571.0,708.4 L583.1,705.6 L585.4,693.4 Z" fill="#000"/>
<path d="M1264.0,508.5 L1021.8,712.5" stroke="#000" stroke-width="5.0" fill="none"/>
<path d="M1006.7,725.2 L1021.0,699.5 L1022.5,711.9 L1034.4,715.4 Z" fill="#000"/>
<path d="M301.8,633.8 L299.8,706.0" stroke="#000" stroke-width="5.0" fill="none"/>
<path d="M299.2,725.7 L289.6,697.9 L299.8,705.0 L310.4,698.5 Z" fill="#000"/>
<path d="M1264.6,639.0 L1113.3,705.0" stroke="#000" stroke-width="5.0" fill="none"/>
<path d="M1095.2,712.9 L1116.2,692.4 L1114.2,704.6 L1124.6,711.4 Z" fill="#000"/>
<path d="M1264.6,639.0 L1302.9,706.6" stroke="#000" stroke-width="5.0" fill="none"/>
<path d="M1312.6,723.7 L1290.0,704.9 L1302.4,705.7 L1308.1,694.6 Z" fill="#000"/>
</g>
<g font-family="Liberation Serif, Times New Roman, serif" font-weight="bold" fill="#000" font-size="42.4">
<text x="180.2" y="50.6" text-anchor="end">18,000</text>
<text x="180.2" y="209.3" text-anchor="end">14,000</text>
<text x="180.2" y="368.0" text-anchor="end">10,000</text>
<text x="180.2" y="526.7" text-anchor="end">6000</text>
<text x="180.2" y="685.4" text-anchor="end">2000</text>
<text x="180.2" y="764.8" text-anchor="end">0</text>
<text x="195.2" y="805.3" text-anchor="middle" letter-spacing="0.5">400</text>
<text x="365.3" y="805.3" text-anchor="middle" letter-spacing="0.5">600</text>
<text x="535.4" y="805.3" text-anchor="middle" letter-spacing="0.5">800</text>
<text x="705.3" y="805.3" text-anchor="middle" letter-spacing="0">1000</text>
<text x="875.3" y="805.3" text-anchor="middle" letter-spacing="0">1200</text>
<text x="1045.4" y="805.3" text-anchor="middle" letter-spacing="0">1400</text>
<text x="1215.5" y="805.3" text-anchor="middle" letter-spacing="0">1600</text>
<text x="1385.6" y="805.3" text-anchor="middle" letter-spacing="0">1800</text>
<text x="1555.7" y="805.3" text-anchor="middle" letter-spacing="0">2000</text>
<text x="1725.8" y="805.3" text-anchor="middle" letter-spacing="0">2200</text>
</g>
<g font-family="Liberation Serif, Times New Roman, serif" font-weight="bold" fill="#000" font-size="42">
<text x="545.3" y="171.8" letter-spacing="0.4">Carotene</text>
<text x="1275.0" y="162.0" letter-spacing="0.45">Carotene</text>
<text x="334.0" y="307.5" letter-spacing="0.1">Chlorophyll a</text>
<text x="614.6" y="383.2" letter-spacing="0.4">Carotene</text>
<text x="261.5" y="497.1" letter-spacing="0.0">Pectin</text>
<text x="1273.6" y="500.2" letter-spacing="0.1">Chlorophyll a</text>
<text x="221.4" y="624.9" letter-spacing="0.4">Lycopene</text>
<text x="1276.1" y="652.6" letter-spacing="0.2">Cuticular wax Carotene</text>
<text transform="translate(1265.2,343.9) scale(1.14,1)" font-weight="normal" font-style="italic">β</text>
<text transform="translate(1288.6,343.9) scale(1.15,1)" font-weight="normal">-</text>
<text x="1304.8" y="343.9" letter-spacing="0.1">Carotene</text>
</g>
<g font-family="Liberation Serif, Times New Roman, serif" font-weight="bold" fill="#000" font-size="46">
<text x="824.5" y="870">Raman shift, cm<tspan font-size="31" dy="-22.3" dx="-3">−1</tspan></text>
<text transform="translate(47.2,400.6) rotate(-90)" text-anchor="middle">Intensity, a.u.</text>
</g>
</svg>
</body></html>
